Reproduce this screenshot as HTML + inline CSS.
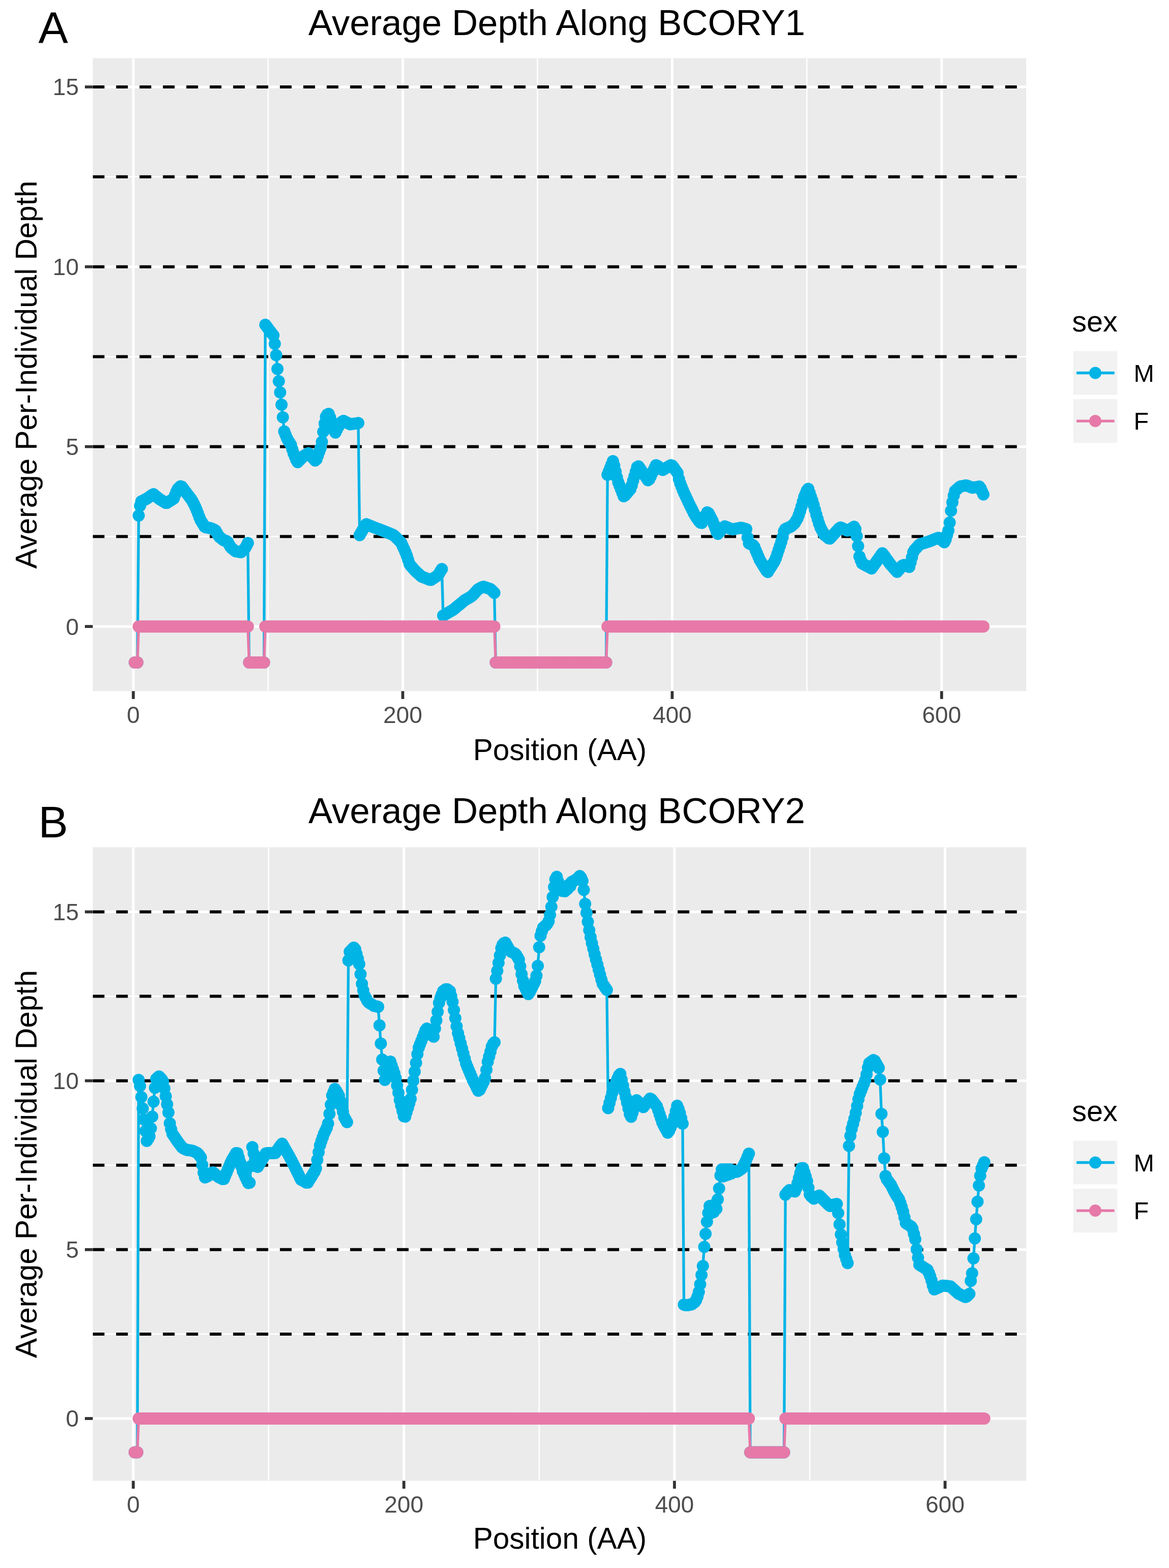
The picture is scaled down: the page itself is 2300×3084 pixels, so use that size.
<!DOCTYPE html>
<html><head><meta charset="utf-8"><title>Average Depth Along BCORY1 / BCORY2</title>
<style>html,body{margin:0;padding:0;background:#fff;}svg{display:block;}text{font-family:'Liberation Sans', Arial, Helvetica, sans-serif;}.tk{font-size:46px;fill:#4D4D4D;}.ti{font-size:70.8px;fill:#000;}.ax{font-size:58.5px;fill:#000;}.lt{font-size:57.5px;fill:#000;}.lg{font-size:48.5px;fill:#000;}.tag{font-size:87.5px;fill:#000;}</style></head><body>
<svg xmlns="http://www.w3.org/2000/svg" width="2300" height="3084" viewBox="0 0 2300 3084">
<rect width="2300" height="3084" fill="#fff"/>
<defs><clipPath id="clipA"><rect x="182.5" y="114.4" width="1836.5" height="1244.9"/></clipPath><clipPath id="clipB"><rect x="182.5" y="1666.5" width="1836.7" height="1246"/></clipPath></defs>
<text x="75.4" y="85.0" class="tag">A</text>
<text x="606.8" y="68.6" class="ti">Average Depth Along BCORY1</text>
<rect x="182.5" y="114.4" width="1836.5" height="1244.9" fill="#EBEBEB"/>
<g clip-path="url(#clipA)">
<line x1="182.5" x2="2019" y1="1055.3" y2="1055.3" stroke="#fff" stroke-width="2.6"/>
<line x1="182.5" x2="2019" y1="701.6" y2="701.6" stroke="#fff" stroke-width="2.6"/>
<line x1="182.5" x2="2019" y1="347.8" y2="347.8" stroke="#fff" stroke-width="2.6"/>
<line x1="527.4" x2="527.4" y1="114.4" y2="1359.3" stroke="#fff" stroke-width="2.6"/>
<line x1="1057.5" x2="1057.5" y1="114.4" y2="1359.3" stroke="#fff" stroke-width="2.6"/>
<line x1="1587.5" x2="1587.5" y1="114.4" y2="1359.3" stroke="#fff" stroke-width="2.6"/>
<line x1="182.5" x2="2019" y1="1232.2" y2="1232.2" stroke="#fff" stroke-width="5.0"/>
<line x1="182.5" x2="2019" y1="878.5" y2="878.5" stroke="#fff" stroke-width="5.0"/>
<line x1="182.5" x2="2019" y1="524.7" y2="524.7" stroke="#fff" stroke-width="5.0"/>
<line x1="182.5" x2="2019" y1="171" y2="171" stroke="#fff" stroke-width="5.0"/>
<line x1="262.3" x2="262.3" y1="114.4" y2="1359.3" stroke="#fff" stroke-width="5.0"/>
<line x1="792.4" x2="792.4" y1="114.4" y2="1359.3" stroke="#fff" stroke-width="5.0"/>
<line x1="1322.5" x2="1322.5" y1="114.4" y2="1359.3" stroke="#fff" stroke-width="5.0"/>
<line x1="1852.6" x2="1852.6" y1="114.4" y2="1359.3" stroke="#fff" stroke-width="5.0"/>
<line x1="182.5" x2="2019" y1="1055.3" y2="1055.3" stroke="#000" stroke-width="6.0" stroke-dasharray="23 23.03"/>
<line x1="182.5" x2="2019" y1="878.5" y2="878.5" stroke="#000" stroke-width="6.0" stroke-dasharray="23 23.03"/>
<line x1="182.5" x2="2019" y1="701.6" y2="701.6" stroke="#000" stroke-width="6.0" stroke-dasharray="23 23.03"/>
<line x1="182.5" x2="2019" y1="524.7" y2="524.7" stroke="#000" stroke-width="6.0" stroke-dasharray="23 23.03"/>
<line x1="182.5" x2="2019" y1="347.8" y2="347.8" stroke="#000" stroke-width="6.0" stroke-dasharray="23 23.03"/>
<line x1="182.5" x2="2019" y1="171" y2="171" stroke="#000" stroke-width="6.0" stroke-dasharray="23 23.03"/>
<polyline points="265,1303 267.6,1303 270.3,1303 272.9,1014 275.6,994.8 278.2,985.9 280.9,984.7 283.5,983.4 286.2,982.1 288.8,980.8 291.5,979 294.1,977.1 296.8,975.2 299.4,973.3 302.1,972 304.7,974.2 307.4,976.4 310,978.6 312.7,980.7 315.3,982.4 318,984 320.6,985.7 323.3,987.3 325.9,989 328.6,988.9 331.2,987.3 333.9,985.6 336.5,984 339.2,982.3 341.8,980.4 344.5,973.8 347.1,967.3 349.8,961.8 352.4,959.1 355.1,956.4 357.7,957.3 360.4,960.8 363,964.4 365.7,967.9 368.3,971.4 371,975 373.6,978.5 376.3,982.1 378.9,986.2 381.6,991.5 384.2,996.8 386.9,1003 389.5,1010 392.2,1016.9 394.8,1023.3 397.5,1027.6 400.1,1031.8 402.8,1036 405.4,1037.3 408.1,1037.8 410.7,1038.2 413.4,1038.6 416,1039.5 418.7,1040.6 421.3,1041.7 424,1043.5 426.6,1048.1 429.3,1052.7 431.9,1056.2 434.6,1058.3 437.2,1060.5 439.9,1062.5 442.5,1063.2 445.2,1063.9 447.8,1065.8 450.5,1070.4 453.1,1075 455.8,1078.2 458.4,1080.3 461.1,1082.4 463.7,1084.3 466.4,1084.7 469,1085.2 471.7,1085.7 474.3,1086 477,1083.3 479.6,1080.7 482.3,1078 484.9,1073.6 487.6,1068 490.2,1303 492.9,1303 495.5,1303 498.2,1303 500.8,1303 503.5,1303 506.1,1303 508.8,1303 511.4,1303 514.1,1303 516.7,1303 519.4,1303 522,638.7 524.7,642.3 527.4,645.9 530,649.5 532.7,652.9 535.3,656.3 538,659.7 540.6,676.3 543.3,698.5 545.9,725.7 548.6,749.8 551.2,771.8 553.9,795.9 556.5,820.7 559.2,848.6 561.8,855.1 564.5,861.7 567.1,866.5 569.8,870.8 572.4,875.1 575.1,883.8 577.7,891.7 580.4,898.1 583,904.5 585.7,908.9 588.3,906.3 591,903.6 593.6,901 596.3,898.3 598.9,895.9 601.6,894.4 604.2,892.9 606.9,891.4 609.5,894.2 612.2,897.1 614.8,900 617.5,902.8 620.1,905.7 622.8,903.3 625.4,896 628.1,888.6 630.7,881.3 633.4,869 636,849.3 638.7,833.1 641.3,819.7 644,815.3 646.6,814 649.3,820.7 651.9,828.3 654.6,836.3 657.2,846 659.9,850.8 662.5,845.5 665.2,840.2 667.8,836 670.5,832.6 673.1,829.2 675.8,827.7 678.4,829.1 681.1,830.4 683.7,831.7 686.4,833.1 689,834.4 691.7,834.1 694.3,833.7 697,833.3 699.6,832.9 702.3,832.5 704.9,832.1 707.6,1052.6 710.2,1048.1 712.9,1043.5 715.5,1039 718.2,1034.4 720.8,1031 723.5,1032.1 726.1,1033.2 728.8,1034.2 731.4,1035.3 734.1,1036.4 736.7,1037.4 739.4,1038.5 742,1039.5 744.7,1040.5 747.3,1041.5 750,1042.5 752.6,1043.5 755.3,1044.5 757.9,1045.5 760.6,1046.6 763.2,1047.7 765.9,1048.8 768.5,1050 771.2,1051.1 773.8,1052.2 776.5,1054.4 779.1,1057 781.8,1059.7 784.4,1062.3 787.1,1065 789.7,1068.2 792.4,1074.2 795.1,1080.1 797.7,1086.1 800.4,1093.1 803,1101.1 805.7,1109 808.3,1113.1 811,1116 813.6,1119 816.3,1122 818.9,1124.5 821.6,1126.9 824.2,1129.3 826.9,1131.7 829.5,1133.9 832.2,1135 834.8,1136 837.5,1137.1 840.1,1138.1 842.8,1139.2 845.4,1140.2 848.1,1140.6 850.7,1138.8 853.4,1137 856,1135.2 858.7,1133.5 861.3,1131.7 864,1127.9 866.6,1123.6 869.3,1119.3 871.9,1210.8 874.6,1209.2 877.2,1207.7 879.9,1206.1 882.5,1204.5 885.2,1203 887.8,1201.4 890.5,1199.9 893.1,1198.2 895.8,1196 898.4,1193.8 901.1,1191.6 903.7,1189.4 906.4,1187.2 909,1185 911.7,1182.8 914.3,1180.6 917,1179 919.6,1177.5 922.3,1175.9 924.9,1174.4 927.6,1172.8 930.2,1170.6 932.9,1167.7 935.5,1164.8 938.2,1161.8 940.8,1158.9 943.5,1157.4 946.1,1156.1 948.8,1154.8 951.4,1154 954.1,1154.9 956.7,1155.8 959.4,1156.7 962,1157.6 964.7,1158.5 967.3,1160.7 970,1163.4 972.6,1166 975.3,1303 977.9,1303 980.6,1303 983.2,1303 985.9,1303 988.5,1303 991.2,1303 993.8,1303 996.5,1303 999.1,1303 1001.8,1303 1004.4,1303 1007.1,1303 1009.7,1303 1012.4,1303 1015,1303 1017.7,1303 1020.3,1303 1023,1303 1025.6,1303 1028.3,1303 1030.9,1303 1033.6,1303 1036.2,1303 1038.9,1303 1041.5,1303 1044.2,1303 1046.8,1303 1049.5,1303 1052.1,1303 1054.8,1303 1057.5,1303 1060.1,1303 1062.8,1303 1065.4,1303 1068.1,1303 1070.7,1303 1073.4,1303 1076,1303 1078.7,1303 1081.3,1303 1084,1303 1086.6,1303 1089.3,1303 1091.9,1303 1094.6,1303 1097.2,1303 1099.9,1303 1102.5,1303 1105.2,1303 1107.8,1303 1110.5,1303 1113.1,1303 1115.8,1303 1118.4,1303 1121.1,1303 1123.7,1303 1126.4,1303 1129,1303 1131.7,1303 1134.3,1303 1137,1303 1139.6,1303 1142.3,1303 1144.9,1303 1147.6,1303 1150.2,1303 1152.9,1303 1155.5,1303 1158.2,1303 1160.8,1303 1163.5,1303 1166.1,1303 1168.8,1303 1171.4,1303 1174.1,1303 1176.7,1303 1179.4,1303 1182,1303 1184.7,1303 1187.3,1303 1190,1303 1192.6,1303 1195.3,933.8 1197.9,927.2 1200.6,920.5 1203.2,913.8 1205.9,907.1 1208.5,915.8 1211.2,927.4 1213.8,939.1 1216.5,948.8 1219.1,955.6 1221.8,962.3 1224.4,969.1 1227.1,975.9 1229.7,974.4 1232.4,971.3 1235,968.2 1237.7,965.1 1240.3,962 1243,954.7 1245.6,945.7 1248.3,936.7 1250.9,927.8 1253.6,918.8 1256.2,917.2 1258.9,921.1 1261.5,925 1264.2,928.9 1266.8,932.8 1269.5,936.6 1272.1,940.5 1274.8,944.4 1277.4,942.8 1280.1,937.2 1282.7,931.6 1285.4,926 1288,920.4 1290.7,914.9 1293.3,916 1296,918.3 1298.6,920.7 1301.3,923 1303.9,924.3 1306.6,922.7 1309.2,921.1 1311.9,919.6 1314.5,918 1317.2,916.4 1319.8,914.9 1322.5,915.7 1325.2,919.3 1327.8,923 1330.5,926.7 1333.1,930.4 1335.8,942.3 1338.4,950.8 1341.1,957.4 1343.7,964.1 1346.4,970.4 1349,976.1 1351.7,981.8 1354.3,987.5 1357,993 1359.6,998.3 1362.3,1003.6 1364.9,1008.9 1367.6,1013.8 1370.2,1017.8 1372.9,1021.8 1375.5,1025.3 1378.2,1028.1 1380.8,1028.4 1383.5,1023.2 1386.1,1018.1 1388.8,1012.9 1391.4,1007.7 1394.1,1009.4 1396.7,1014.4 1399.4,1019.5 1402,1024.6 1404.7,1031.3 1407.3,1038.6 1410,1045.9 1412.6,1050 1415.3,1046.9 1417.9,1043.8 1420.6,1040.7 1423.2,1037.6 1425.9,1035.2 1428.5,1036.3 1431.2,1037.3 1433.8,1038.4 1436.5,1039.5 1439.1,1040.5 1441.8,1040.9 1444.4,1040.4 1447.1,1040 1449.7,1039.5 1452.4,1039.1 1455,1038.6 1457.7,1038.2 1460.3,1038.5 1463,1039.3 1465.6,1040 1468.3,1040.8 1470.9,1057.3 1473.6,1068.7 1476.2,1069.9 1478.9,1071 1481.5,1072.2 1484.2,1075.8 1486.8,1082.2 1489.5,1088.5 1492.1,1094.8 1494.8,1101.1 1497.4,1105.5 1500.1,1109.7 1502.7,1114 1505.4,1118.2 1508,1122.5 1510.7,1124.9 1513.3,1120.6 1516,1116.4 1518.6,1112.2 1521.3,1108 1523.9,1103.8 1526.6,1097.7 1529.2,1089.8 1531.9,1081.8 1534.5,1073.8 1537.2,1065.8 1539.8,1056.6 1542.5,1045.1 1545.1,1040.4 1547.8,1039.2 1550.4,1038.1 1553.1,1037 1555.7,1035.8 1558.4,1033.7 1561,1031.6 1563.7,1028.8 1566.3,1024.3 1569,1019.7 1571.6,1013.1 1574.3,1005.1 1576.9,996.5 1579.6,986.8 1582.2,977.4 1584.9,971.2 1587.5,965 1590.2,961.5 1592.9,969.2 1595.5,976.9 1598.2,984.6 1600.8,992.9 1603.5,1002.7 1606.1,1012.3 1608.8,1021 1611.4,1029.8 1614.1,1037 1616.7,1042 1619.4,1047 1622,1052 1624.7,1054.1 1627.3,1056.2 1630,1058.4 1632.6,1059.3 1635.3,1056.4 1637.9,1053.5 1640.6,1050.6 1643.2,1047.7 1645.9,1044.8 1648.5,1041.9 1651.2,1039 1653.8,1037.4 1656.5,1038.6 1659.1,1039.8 1661.8,1041.1 1664.4,1042.3 1667.1,1043.5 1669.7,1042.9 1672.4,1041.2 1675,1039.4 1677.7,1037.7 1680.3,1035.9 1683,1040.8 1685.6,1054.5 1688.3,1074.1 1690.9,1094.4 1693.6,1101.7 1696.2,1108.1 1698.9,1109.5 1701.5,1110.9 1704.2,1112.3 1706.8,1113.7 1709.5,1115.1 1712.1,1116.5 1714.8,1117.9 1717.4,1114.6 1720.1,1110.8 1722.7,1107.1 1725.4,1103.3 1728,1099.6 1730.7,1095.8 1733.3,1092.1 1736,1088.3 1738.6,1091.4 1741.3,1095.1 1743.9,1098.9 1746.6,1102.6 1749.2,1106.3 1751.9,1109.9 1754.5,1112.9 1757.2,1116 1759.8,1119 1762.5,1122.1 1765.1,1124.8 1767.8,1121.7 1770.4,1118.6 1773.1,1115.4 1775.7,1112.3 1778.4,1111.2 1781,1112.2 1783.7,1113.1 1786.3,1114.1 1789,1115.1 1791.6,1106 1794.3,1096.1 1796.9,1086.1 1799.6,1081.6 1802.2,1078.7 1804.9,1075.7 1807.5,1072.7 1810.2,1070.3 1812.8,1069.5 1815.5,1068.7 1818.1,1067.9 1820.8,1067 1823.4,1066.2 1826.1,1065.4 1828.7,1064.5 1831.4,1063.4 1834,1062.4 1836.7,1061.3 1839.3,1060.3 1842,1059.2 1844.6,1058.2 1847.3,1058 1849.9,1060.1 1852.6,1062.2 1855.3,1064.3 1857.9,1066.5 1860.6,1061 1863.2,1052.3 1865.9,1043.6 1868.5,1027.7 1871.2,1004.4 1873.8,987.9 1876.5,974.8 1879.1,965.7 1881.8,963.3 1884.4,961 1887.1,958.6 1889.7,956.8 1892.4,956.2 1895,955.7 1897.7,955.2 1900.3,954.7 1903,955.2 1905.6,956.3 1908.3,957.3 1910.9,958.4 1913.6,959.2 1916.2,958.8 1918.9,958.4 1921.5,957.9 1924.2,957.5 1926.8,957 1929.5,960.8 1932.1,966.7 1934.8,972.5" fill="none" stroke="#00B4E6" stroke-width="5.3" stroke-linejoin="round" stroke-linecap="butt"/>
<polyline points="265,1303 267.6,1303 270.3,1303 272.9,1232.2 275.6,1232.2 278.2,1232.2 280.9,1232.2 283.5,1232.2 286.2,1232.2 288.8,1232.2 291.5,1232.2 294.1,1232.2 296.8,1232.2 299.4,1232.2 302.1,1232.2 304.7,1232.2 307.4,1232.2 310,1232.2 312.7,1232.2 315.3,1232.2 318,1232.2 320.6,1232.2 323.3,1232.2 325.9,1232.2 328.6,1232.2 331.2,1232.2 333.9,1232.2 336.5,1232.2 339.2,1232.2 341.8,1232.2 344.5,1232.2 347.1,1232.2 349.8,1232.2 352.4,1232.2 355.1,1232.2 357.7,1232.2 360.4,1232.2 363,1232.2 365.7,1232.2 368.3,1232.2 371,1232.2 373.6,1232.2 376.3,1232.2 378.9,1232.2 381.6,1232.2 384.2,1232.2 386.9,1232.2 389.5,1232.2 392.2,1232.2 394.8,1232.2 397.5,1232.2 400.1,1232.2 402.8,1232.2 405.4,1232.2 408.1,1232.2 410.7,1232.2 413.4,1232.2 416,1232.2 418.7,1232.2 421.3,1232.2 424,1232.2 426.6,1232.2 429.3,1232.2 431.9,1232.2 434.6,1232.2 437.2,1232.2 439.9,1232.2 442.5,1232.2 445.2,1232.2 447.8,1232.2 450.5,1232.2 453.1,1232.2 455.8,1232.2 458.4,1232.2 461.1,1232.2 463.7,1232.2 466.4,1232.2 469,1232.2 471.7,1232.2 474.3,1232.2 477,1232.2 479.6,1232.2 482.3,1232.2 484.9,1232.2 487.6,1232.2 490.2,1303 492.9,1303 495.5,1303 498.2,1303 500.8,1303 503.5,1303 506.1,1303 508.8,1303 511.4,1303 514.1,1303 516.7,1303 519.4,1303 522,1232.2 524.7,1232.2 527.4,1232.2 530,1232.2 532.7,1232.2 535.3,1232.2 538,1232.2 540.6,1232.2 543.3,1232.2 545.9,1232.2 548.6,1232.2 551.2,1232.2 553.9,1232.2 556.5,1232.2 559.2,1232.2 561.8,1232.2 564.5,1232.2 567.1,1232.2 569.8,1232.2 572.4,1232.2 575.1,1232.2 577.7,1232.2 580.4,1232.2 583,1232.2 585.7,1232.2 588.3,1232.2 591,1232.2 593.6,1232.2 596.3,1232.2 598.9,1232.2 601.6,1232.2 604.2,1232.2 606.9,1232.2 609.5,1232.2 612.2,1232.2 614.8,1232.2 617.5,1232.2 620.1,1232.2 622.8,1232.2 625.4,1232.2 628.1,1232.2 630.7,1232.2 633.4,1232.2 636,1232.2 638.7,1232.2 641.3,1232.2 644,1232.2 646.6,1232.2 649.3,1232.2 651.9,1232.2 654.6,1232.2 657.2,1232.2 659.9,1232.2 662.5,1232.2 665.2,1232.2 667.8,1232.2 670.5,1232.2 673.1,1232.2 675.8,1232.2 678.4,1232.2 681.1,1232.2 683.7,1232.2 686.4,1232.2 689,1232.2 691.7,1232.2 694.3,1232.2 697,1232.2 699.6,1232.2 702.3,1232.2 704.9,1232.2 707.6,1232.2 710.2,1232.2 712.9,1232.2 715.5,1232.2 718.2,1232.2 720.8,1232.2 723.5,1232.2 726.1,1232.2 728.8,1232.2 731.4,1232.2 734.1,1232.2 736.7,1232.2 739.4,1232.2 742,1232.2 744.7,1232.2 747.3,1232.2 750,1232.2 752.6,1232.2 755.3,1232.2 757.9,1232.2 760.6,1232.2 763.2,1232.2 765.9,1232.2 768.5,1232.2 771.2,1232.2 773.8,1232.2 776.5,1232.2 779.1,1232.2 781.8,1232.2 784.4,1232.2 787.1,1232.2 789.7,1232.2 792.4,1232.2 795.1,1232.2 797.7,1232.2 800.4,1232.2 803,1232.2 805.7,1232.2 808.3,1232.2 811,1232.2 813.6,1232.2 816.3,1232.2 818.9,1232.2 821.6,1232.2 824.2,1232.2 826.9,1232.2 829.5,1232.2 832.2,1232.2 834.8,1232.2 837.5,1232.2 840.1,1232.2 842.8,1232.2 845.4,1232.2 848.1,1232.2 850.7,1232.2 853.4,1232.2 856,1232.2 858.7,1232.2 861.3,1232.2 864,1232.2 866.6,1232.2 869.3,1232.2 871.9,1232.2 874.6,1232.2 877.2,1232.2 879.9,1232.2 882.5,1232.2 885.2,1232.2 887.8,1232.2 890.5,1232.2 893.1,1232.2 895.8,1232.2 898.4,1232.2 901.1,1232.2 903.7,1232.2 906.4,1232.2 909,1232.2 911.7,1232.2 914.3,1232.2 917,1232.2 919.6,1232.2 922.3,1232.2 924.9,1232.2 927.6,1232.2 930.2,1232.2 932.9,1232.2 935.5,1232.2 938.2,1232.2 940.8,1232.2 943.5,1232.2 946.1,1232.2 948.8,1232.2 951.4,1232.2 954.1,1232.2 956.7,1232.2 959.4,1232.2 962,1232.2 964.7,1232.2 967.3,1232.2 970,1232.2 972.6,1232.2 975.3,1303 977.9,1303 980.6,1303 983.2,1303 985.9,1303 988.5,1303 991.2,1303 993.8,1303 996.5,1303 999.1,1303 1001.8,1303 1004.4,1303 1007.1,1303 1009.7,1303 1012.4,1303 1015,1303 1017.7,1303 1020.3,1303 1023,1303 1025.6,1303 1028.3,1303 1030.9,1303 1033.6,1303 1036.2,1303 1038.9,1303 1041.5,1303 1044.2,1303 1046.8,1303 1049.5,1303 1052.1,1303 1054.8,1303 1057.5,1303 1060.1,1303 1062.8,1303 1065.4,1303 1068.1,1303 1070.7,1303 1073.4,1303 1076,1303 1078.7,1303 1081.3,1303 1084,1303 1086.6,1303 1089.3,1303 1091.9,1303 1094.6,1303 1097.2,1303 1099.9,1303 1102.5,1303 1105.2,1303 1107.8,1303 1110.5,1303 1113.1,1303 1115.8,1303 1118.4,1303 1121.1,1303 1123.7,1303 1126.4,1303 1129,1303 1131.7,1303 1134.3,1303 1137,1303 1139.6,1303 1142.3,1303 1144.9,1303 1147.6,1303 1150.2,1303 1152.9,1303 1155.5,1303 1158.2,1303 1160.8,1303 1163.5,1303 1166.1,1303 1168.8,1303 1171.4,1303 1174.1,1303 1176.7,1303 1179.4,1303 1182,1303 1184.7,1303 1187.3,1303 1190,1303 1192.6,1303 1195.3,1232.2 1197.9,1232.2 1200.6,1232.2 1203.2,1232.2 1205.9,1232.2 1208.5,1232.2 1211.2,1232.2 1213.8,1232.2 1216.5,1232.2 1219.1,1232.2 1221.8,1232.2 1224.4,1232.2 1227.1,1232.2 1229.7,1232.2 1232.4,1232.2 1235,1232.2 1237.7,1232.2 1240.3,1232.2 1243,1232.2 1245.6,1232.2 1248.3,1232.2 1250.9,1232.2 1253.6,1232.2 1256.2,1232.2 1258.9,1232.2 1261.5,1232.2 1264.2,1232.2 1266.8,1232.2 1269.5,1232.2 1272.1,1232.2 1274.8,1232.2 1277.4,1232.2 1280.1,1232.2 1282.7,1232.2 1285.4,1232.2 1288,1232.2 1290.7,1232.2 1293.3,1232.2 1296,1232.2 1298.6,1232.2 1301.3,1232.2 1303.9,1232.2 1306.6,1232.2 1309.2,1232.2 1311.9,1232.2 1314.5,1232.2 1317.2,1232.2 1319.8,1232.2 1322.5,1232.2 1325.2,1232.2 1327.8,1232.2 1330.5,1232.2 1333.1,1232.2 1335.8,1232.2 1338.4,1232.2 1341.1,1232.2 1343.7,1232.2 1346.4,1232.2 1349,1232.2 1351.7,1232.2 1354.3,1232.2 1357,1232.2 1359.6,1232.2 1362.3,1232.2 1364.9,1232.2 1367.6,1232.2 1370.2,1232.2 1372.9,1232.2 1375.5,1232.2 1378.2,1232.2 1380.8,1232.2 1383.5,1232.2 1386.1,1232.2 1388.8,1232.2 1391.4,1232.2 1394.1,1232.2 1396.7,1232.2 1399.4,1232.2 1402,1232.2 1404.7,1232.2 1407.3,1232.2 1410,1232.2 1412.6,1232.2 1415.3,1232.2 1417.9,1232.2 1420.6,1232.2 1423.2,1232.2 1425.9,1232.2 1428.5,1232.2 1431.2,1232.2 1433.8,1232.2 1436.5,1232.2 1439.1,1232.2 1441.8,1232.2 1444.4,1232.2 1447.1,1232.2 1449.7,1232.2 1452.4,1232.2 1455,1232.2 1457.7,1232.2 1460.3,1232.2 1463,1232.2 1465.6,1232.2 1468.3,1232.2 1470.9,1232.2 1473.6,1232.2 1476.2,1232.2 1478.9,1232.2 1481.5,1232.2 1484.2,1232.2 1486.8,1232.2 1489.5,1232.2 1492.1,1232.2 1494.8,1232.2 1497.4,1232.2 1500.1,1232.2 1502.7,1232.2 1505.4,1232.2 1508,1232.2 1510.7,1232.2 1513.3,1232.2 1516,1232.2 1518.6,1232.2 1521.3,1232.2 1523.9,1232.2 1526.6,1232.2 1529.2,1232.2 1531.9,1232.2 1534.5,1232.2 1537.2,1232.2 1539.8,1232.2 1542.5,1232.2 1545.1,1232.2 1547.8,1232.2 1550.4,1232.2 1553.1,1232.2 1555.7,1232.2 1558.4,1232.2 1561,1232.2 1563.7,1232.2 1566.3,1232.2 1569,1232.2 1571.6,1232.2 1574.3,1232.2 1576.9,1232.2 1579.6,1232.2 1582.2,1232.2 1584.9,1232.2 1587.5,1232.2 1590.2,1232.2 1592.9,1232.2 1595.5,1232.2 1598.2,1232.2 1600.8,1232.2 1603.5,1232.2 1606.1,1232.2 1608.8,1232.2 1611.4,1232.2 1614.1,1232.2 1616.7,1232.2 1619.4,1232.2 1622,1232.2 1624.7,1232.2 1627.3,1232.2 1630,1232.2 1632.6,1232.2 1635.3,1232.2 1637.9,1232.2 1640.6,1232.2 1643.2,1232.2 1645.9,1232.2 1648.5,1232.2 1651.2,1232.2 1653.8,1232.2 1656.5,1232.2 1659.1,1232.2 1661.8,1232.2 1664.4,1232.2 1667.1,1232.2 1669.7,1232.2 1672.4,1232.2 1675,1232.2 1677.7,1232.2 1680.3,1232.2 1683,1232.2 1685.6,1232.2 1688.3,1232.2 1690.9,1232.2 1693.6,1232.2 1696.2,1232.2 1698.9,1232.2 1701.5,1232.2 1704.2,1232.2 1706.8,1232.2 1709.5,1232.2 1712.1,1232.2 1714.8,1232.2 1717.4,1232.2 1720.1,1232.2 1722.7,1232.2 1725.4,1232.2 1728,1232.2 1730.7,1232.2 1733.3,1232.2 1736,1232.2 1738.6,1232.2 1741.3,1232.2 1743.9,1232.2 1746.6,1232.2 1749.2,1232.2 1751.9,1232.2 1754.5,1232.2 1757.2,1232.2 1759.8,1232.2 1762.5,1232.2 1765.1,1232.2 1767.8,1232.2 1770.4,1232.2 1773.1,1232.2 1775.7,1232.2 1778.4,1232.2 1781,1232.2 1783.7,1232.2 1786.3,1232.2 1789,1232.2 1791.6,1232.2 1794.3,1232.2 1796.9,1232.2 1799.6,1232.2 1802.2,1232.2 1804.9,1232.2 1807.5,1232.2 1810.2,1232.2 1812.8,1232.2 1815.5,1232.2 1818.1,1232.2 1820.8,1232.2 1823.4,1232.2 1826.1,1232.2 1828.7,1232.2 1831.4,1232.2 1834,1232.2 1836.7,1232.2 1839.3,1232.2 1842,1232.2 1844.6,1232.2 1847.3,1232.2 1849.9,1232.2 1852.6,1232.2 1855.3,1232.2 1857.9,1232.2 1860.6,1232.2 1863.2,1232.2 1865.9,1232.2 1868.5,1232.2 1871.2,1232.2 1873.8,1232.2 1876.5,1232.2 1879.1,1232.2 1881.8,1232.2 1884.4,1232.2 1887.1,1232.2 1889.7,1232.2 1892.4,1232.2 1895,1232.2 1897.7,1232.2 1900.3,1232.2 1903,1232.2 1905.6,1232.2 1908.3,1232.2 1910.9,1232.2 1913.6,1232.2 1916.2,1232.2 1918.9,1232.2 1921.5,1232.2 1924.2,1232.2 1926.8,1232.2 1929.5,1232.2 1932.1,1232.2 1934.8,1232.2" fill="none" stroke="#E679A8" stroke-width="5.3" stroke-linejoin="round" stroke-linecap="butt"/>
<path d="M265 1303h0M267.6 1303h0M270.3 1303h0M272.9 1014h0M275.6 994.8h0M278.2 985.9h0M280.9 984.7h0M283.5 983.4h0M286.2 982.1h0M288.8 980.8h0M291.5 979h0M294.1 977.1h0M296.8 975.2h0M299.4 973.3h0M302.1 972h0M304.7 974.2h0M307.4 976.4h0M310 978.6h0M312.7 980.7h0M315.3 982.4h0M318 984h0M320.6 985.7h0M323.3 987.3h0M325.9 989h0M328.6 988.9h0M331.2 987.3h0M333.9 985.6h0M336.5 984h0M339.2 982.3h0M341.8 980.4h0M344.5 973.8h0M347.1 967.3h0M349.8 961.8h0M352.4 959.1h0M355.1 956.4h0M357.7 957.3h0M360.4 960.8h0M363 964.4h0M365.7 967.9h0M368.3 971.4h0M371 975h0M373.6 978.5h0M376.3 982.1h0M378.9 986.2h0M381.6 991.5h0M384.2 996.8h0M386.9 1003h0M389.5 1010h0M392.2 1016.9h0M394.8 1023.3h0M397.5 1027.6h0M400.1 1031.8h0M402.8 1036h0M405.4 1037.3h0M408.1 1037.8h0M410.7 1038.2h0M413.4 1038.6h0M416 1039.5h0M418.7 1040.6h0M421.3 1041.7h0M424 1043.5h0M426.6 1048.1h0M429.3 1052.7h0M431.9 1056.2h0M434.6 1058.3h0M437.2 1060.5h0M439.9 1062.5h0M442.5 1063.2h0M445.2 1063.9h0M447.8 1065.8h0M450.5 1070.4h0M453.1 1075h0M455.8 1078.2h0M458.4 1080.3h0M461.1 1082.4h0M463.7 1084.3h0M466.4 1084.7h0M469 1085.2h0M471.7 1085.7h0M474.3 1086h0M477 1083.3h0M479.6 1080.7h0M482.3 1078h0M484.9 1073.6h0M487.6 1068h0M490.2 1303h0M492.9 1303h0M495.5 1303h0M498.2 1303h0M500.8 1303h0M503.5 1303h0M506.1 1303h0M508.8 1303h0M511.4 1303h0M514.1 1303h0M516.7 1303h0M519.4 1303h0M522 638.7h0M524.7 642.3h0M527.4 645.9h0M530 649.5h0M532.7 652.9h0M535.3 656.3h0M538 659.7h0M540.6 676.3h0M543.3 698.5h0M545.9 725.7h0M548.6 749.8h0M551.2 771.8h0M553.9 795.9h0M556.5 820.7h0M559.2 848.6h0M561.8 855.1h0M564.5 861.7h0M567.1 866.5h0M569.8 870.8h0M572.4 875.1h0M575.1 883.8h0M577.7 891.7h0M580.4 898.1h0M583 904.5h0M585.7 908.9h0M588.3 906.3h0M591 903.6h0M593.6 901h0M596.3 898.3h0M598.9 895.9h0M601.6 894.4h0M604.2 892.9h0M606.9 891.4h0M609.5 894.2h0M612.2 897.1h0M614.8 900h0M617.5 902.8h0M620.1 905.7h0M622.8 903.3h0M625.4 896h0M628.1 888.6h0M630.7 881.3h0M633.4 869h0M636 849.3h0M638.7 833.1h0M641.3 819.7h0M644 815.3h0M646.6 814h0M649.3 820.7h0M651.9 828.3h0M654.6 836.3h0M657.2 846h0M659.9 850.8h0M662.5 845.5h0M665.2 840.2h0M667.8 836h0M670.5 832.6h0M673.1 829.2h0M675.8 827.7h0M678.4 829.1h0M681.1 830.4h0M683.7 831.7h0M686.4 833.1h0M689 834.4h0M691.7 834.1h0M694.3 833.7h0M697 833.3h0M699.6 832.9h0M702.3 832.5h0M704.9 832.1h0M707.6 1052.6h0M710.2 1048.1h0M712.9 1043.5h0M715.5 1039h0M718.2 1034.4h0M720.8 1031h0M723.5 1032.1h0M726.1 1033.2h0M728.8 1034.2h0M731.4 1035.3h0M734.1 1036.4h0M736.7 1037.4h0M739.4 1038.5h0M742 1039.5h0M744.7 1040.5h0M747.3 1041.5h0M750 1042.5h0M752.6 1043.5h0M755.3 1044.5h0M757.9 1045.5h0M760.6 1046.6h0M763.2 1047.7h0M765.9 1048.8h0M768.5 1050h0M771.2 1051.1h0M773.8 1052.2h0M776.5 1054.4h0M779.1 1057h0M781.8 1059.7h0M784.4 1062.3h0M787.1 1065h0M789.7 1068.2h0M792.4 1074.2h0M795.1 1080.1h0M797.7 1086.1h0M800.4 1093.1h0M803 1101.1h0M805.7 1109h0M808.3 1113.1h0M811 1116h0M813.6 1119h0M816.3 1122h0M818.9 1124.5h0M821.6 1126.9h0M824.2 1129.3h0M826.9 1131.7h0M829.5 1133.9h0M832.2 1135h0M834.8 1136h0M837.5 1137.1h0M840.1 1138.1h0M842.8 1139.2h0M845.4 1140.2h0M848.1 1140.6h0M850.7 1138.8h0M853.4 1137h0M856 1135.2h0M858.7 1133.5h0M861.3 1131.7h0M864 1127.9h0M866.6 1123.6h0M869.3 1119.3h0M871.9 1210.8h0M874.6 1209.2h0M877.2 1207.7h0M879.9 1206.1h0M882.5 1204.5h0M885.2 1203h0M887.8 1201.4h0M890.5 1199.9h0M893.1 1198.2h0M895.8 1196h0M898.4 1193.8h0M901.1 1191.6h0M903.7 1189.4h0M906.4 1187.2h0M909 1185h0M911.7 1182.8h0M914.3 1180.6h0M917 1179h0M919.6 1177.5h0M922.3 1175.9h0M924.9 1174.4h0M927.6 1172.8h0M930.2 1170.6h0M932.9 1167.7h0M935.5 1164.8h0M938.2 1161.8h0M940.8 1158.9h0M943.5 1157.4h0M946.1 1156.1h0M948.8 1154.8h0M951.4 1154h0M954.1 1154.9h0M956.7 1155.8h0M959.4 1156.7h0M962 1157.6h0M964.7 1158.5h0M967.3 1160.7h0M970 1163.4h0M972.6 1166h0M975.3 1303h0M977.9 1303h0M980.6 1303h0M983.2 1303h0M985.9 1303h0M988.5 1303h0M991.2 1303h0M993.8 1303h0M996.5 1303h0M999.1 1303h0M1001.8 1303h0M1004.4 1303h0M1007.1 1303h0M1009.7 1303h0M1012.4 1303h0M1015 1303h0M1017.7 1303h0M1020.3 1303h0M1023 1303h0M1025.6 1303h0M1028.3 1303h0M1030.9 1303h0M1033.6 1303h0M1036.2 1303h0M1038.9 1303h0M1041.5 1303h0M1044.2 1303h0M1046.8 1303h0M1049.5 1303h0M1052.1 1303h0M1054.8 1303h0M1057.5 1303h0M1060.1 1303h0M1062.8 1303h0M1065.4 1303h0M1068.1 1303h0M1070.7 1303h0M1073.4 1303h0M1076 1303h0M1078.7 1303h0M1081.3 1303h0M1084 1303h0M1086.6 1303h0M1089.3 1303h0M1091.9 1303h0M1094.6 1303h0M1097.2 1303h0M1099.9 1303h0M1102.5 1303h0M1105.2 1303h0M1107.8 1303h0M1110.5 1303h0M1113.1 1303h0M1115.8 1303h0M1118.4 1303h0M1121.1 1303h0M1123.7 1303h0M1126.4 1303h0M1129 1303h0M1131.7 1303h0M1134.3 1303h0M1137 1303h0M1139.6 1303h0M1142.3 1303h0M1144.9 1303h0M1147.6 1303h0M1150.2 1303h0M1152.9 1303h0M1155.5 1303h0M1158.2 1303h0M1160.8 1303h0M1163.5 1303h0M1166.1 1303h0M1168.8 1303h0M1171.4 1303h0M1174.1 1303h0M1176.7 1303h0M1179.4 1303h0M1182 1303h0M1184.7 1303h0M1187.3 1303h0M1190 1303h0M1192.6 1303h0M1195.3 933.8h0M1197.9 927.2h0M1200.6 920.5h0M1203.2 913.8h0M1205.9 907.1h0M1208.5 915.8h0M1211.2 927.4h0M1213.8 939.1h0M1216.5 948.8h0M1219.1 955.6h0M1221.8 962.3h0M1224.4 969.1h0M1227.1 975.9h0M1229.7 974.4h0M1232.4 971.3h0M1235 968.2h0M1237.7 965.1h0M1240.3 962h0M1243 954.7h0M1245.6 945.7h0M1248.3 936.7h0M1250.9 927.8h0M1253.6 918.8h0M1256.2 917.2h0M1258.9 921.1h0M1261.5 925h0M1264.2 928.9h0M1266.8 932.8h0M1269.5 936.6h0M1272.1 940.5h0M1274.8 944.4h0M1277.4 942.8h0M1280.1 937.2h0M1282.7 931.6h0M1285.4 926h0M1288 920.4h0M1290.7 914.9h0M1293.3 916h0M1296 918.3h0M1298.6 920.7h0M1301.3 923h0M1303.9 924.3h0M1306.6 922.7h0M1309.2 921.1h0M1311.9 919.6h0M1314.5 918h0M1317.2 916.4h0M1319.8 914.9h0M1322.5 915.7h0M1325.2 919.3h0M1327.8 923h0M1330.5 926.7h0M1333.1 930.4h0M1335.8 942.3h0M1338.4 950.8h0M1341.1 957.4h0M1343.7 964.1h0M1346.4 970.4h0M1349 976.1h0M1351.7 981.8h0M1354.3 987.5h0M1357 993h0M1359.6 998.3h0M1362.3 1003.6h0M1364.9 1008.9h0M1367.6 1013.8h0M1370.2 1017.8h0M1372.9 1021.8h0M1375.5 1025.3h0M1378.2 1028.1h0M1380.8 1028.4h0M1383.5 1023.2h0M1386.1 1018.1h0M1388.8 1012.9h0M1391.4 1007.7h0M1394.1 1009.4h0M1396.7 1014.4h0M1399.4 1019.5h0M1402 1024.6h0M1404.7 1031.3h0M1407.3 1038.6h0M1410 1045.9h0M1412.6 1050h0M1415.3 1046.9h0M1417.9 1043.8h0M1420.6 1040.7h0M1423.2 1037.6h0M1425.9 1035.2h0M1428.5 1036.3h0M1431.2 1037.3h0M1433.8 1038.4h0M1436.5 1039.5h0M1439.1 1040.5h0M1441.8 1040.9h0M1444.4 1040.4h0M1447.1 1040h0M1449.7 1039.5h0M1452.4 1039.1h0M1455 1038.6h0M1457.7 1038.2h0M1460.3 1038.5h0M1463 1039.3h0M1465.6 1040h0M1468.3 1040.8h0M1470.9 1057.3h0M1473.6 1068.7h0M1476.2 1069.9h0M1478.9 1071h0M1481.5 1072.2h0M1484.2 1075.8h0M1486.8 1082.2h0M1489.5 1088.5h0M1492.1 1094.8h0M1494.8 1101.1h0M1497.4 1105.5h0M1500.1 1109.7h0M1502.7 1114h0M1505.4 1118.2h0M1508 1122.5h0M1510.7 1124.9h0M1513.3 1120.6h0M1516 1116.4h0M1518.6 1112.2h0M1521.3 1108h0M1523.9 1103.8h0M1526.6 1097.7h0M1529.2 1089.8h0M1531.9 1081.8h0M1534.5 1073.8h0M1537.2 1065.8h0M1539.8 1056.6h0M1542.5 1045.1h0M1545.1 1040.4h0M1547.8 1039.2h0M1550.4 1038.1h0M1553.1 1037h0M1555.7 1035.8h0M1558.4 1033.7h0M1561 1031.6h0M1563.7 1028.8h0M1566.3 1024.3h0M1569 1019.7h0M1571.6 1013.1h0M1574.3 1005.1h0M1576.9 996.5h0M1579.6 986.8h0M1582.2 977.4h0M1584.9 971.2h0M1587.5 965h0M1590.2 961.5h0M1592.9 969.2h0M1595.5 976.9h0M1598.2 984.6h0M1600.8 992.9h0M1603.5 1002.7h0M1606.1 1012.3h0M1608.8 1021h0M1611.4 1029.8h0M1614.1 1037h0M1616.7 1042h0M1619.4 1047h0M1622 1052h0M1624.7 1054.1h0M1627.3 1056.2h0M1630 1058.4h0M1632.6 1059.3h0M1635.3 1056.4h0M1637.9 1053.5h0M1640.6 1050.6h0M1643.2 1047.7h0M1645.9 1044.8h0M1648.5 1041.9h0M1651.2 1039h0M1653.8 1037.4h0M1656.5 1038.6h0M1659.1 1039.8h0M1661.8 1041.1h0M1664.4 1042.3h0M1667.1 1043.5h0M1669.7 1042.9h0M1672.4 1041.2h0M1675 1039.4h0M1677.7 1037.7h0M1680.3 1035.9h0M1683 1040.8h0M1685.6 1054.5h0M1688.3 1074.1h0M1690.9 1094.4h0M1693.6 1101.7h0M1696.2 1108.1h0M1698.9 1109.5h0M1701.5 1110.9h0M1704.2 1112.3h0M1706.8 1113.7h0M1709.5 1115.1h0M1712.1 1116.5h0M1714.8 1117.9h0M1717.4 1114.6h0M1720.1 1110.8h0M1722.7 1107.1h0M1725.4 1103.3h0M1728 1099.6h0M1730.7 1095.8h0M1733.3 1092.1h0M1736 1088.3h0M1738.6 1091.4h0M1741.3 1095.1h0M1743.9 1098.9h0M1746.6 1102.6h0M1749.2 1106.3h0M1751.9 1109.9h0M1754.5 1112.9h0M1757.2 1116h0M1759.8 1119h0M1762.5 1122.1h0M1765.1 1124.8h0M1767.8 1121.7h0M1770.4 1118.6h0M1773.1 1115.4h0M1775.7 1112.3h0M1778.4 1111.2h0M1781 1112.2h0M1783.7 1113.1h0M1786.3 1114.1h0M1789 1115.1h0M1791.6 1106h0M1794.3 1096.1h0M1796.9 1086.1h0M1799.6 1081.6h0M1802.2 1078.7h0M1804.9 1075.7h0M1807.5 1072.7h0M1810.2 1070.3h0M1812.8 1069.5h0M1815.5 1068.7h0M1818.1 1067.9h0M1820.8 1067h0M1823.4 1066.2h0M1826.1 1065.4h0M1828.7 1064.5h0M1831.4 1063.4h0M1834 1062.4h0M1836.7 1061.3h0M1839.3 1060.3h0M1842 1059.2h0M1844.6 1058.2h0M1847.3 1058h0M1849.9 1060.1h0M1852.6 1062.2h0M1855.3 1064.3h0M1857.9 1066.5h0M1860.6 1061h0M1863.2 1052.3h0M1865.9 1043.6h0M1868.5 1027.7h0M1871.2 1004.4h0M1873.8 987.9h0M1876.5 974.8h0M1879.1 965.7h0M1881.8 963.3h0M1884.4 961h0M1887.1 958.6h0M1889.7 956.8h0M1892.4 956.2h0M1895 955.7h0M1897.7 955.2h0M1900.3 954.7h0M1903 955.2h0M1905.6 956.3h0M1908.3 957.3h0M1910.9 958.4h0M1913.6 959.2h0M1916.2 958.8h0M1918.9 958.4h0M1921.5 957.9h0M1924.2 957.5h0M1926.8 957h0M1929.5 960.8h0M1932.1 966.7h0M1934.8 972.5h0" fill="none" stroke="#00B4E6" stroke-width="24" stroke-linecap="round"/>
<path d="M265 1303h0M267.6 1303h0M270.3 1303h0M272.9 1232.2h0M275.6 1232.2h0M278.2 1232.2h0M280.9 1232.2h0M283.5 1232.2h0M286.2 1232.2h0M288.8 1232.2h0M291.5 1232.2h0M294.1 1232.2h0M296.8 1232.2h0M299.4 1232.2h0M302.1 1232.2h0M304.7 1232.2h0M307.4 1232.2h0M310 1232.2h0M312.7 1232.2h0M315.3 1232.2h0M318 1232.2h0M320.6 1232.2h0M323.3 1232.2h0M325.9 1232.2h0M328.6 1232.2h0M331.2 1232.2h0M333.9 1232.2h0M336.5 1232.2h0M339.2 1232.2h0M341.8 1232.2h0M344.5 1232.2h0M347.1 1232.2h0M349.8 1232.2h0M352.4 1232.2h0M355.1 1232.2h0M357.7 1232.2h0M360.4 1232.2h0M363 1232.2h0M365.7 1232.2h0M368.3 1232.2h0M371 1232.2h0M373.6 1232.2h0M376.3 1232.2h0M378.9 1232.2h0M381.6 1232.2h0M384.2 1232.2h0M386.9 1232.2h0M389.5 1232.2h0M392.2 1232.2h0M394.8 1232.2h0M397.5 1232.2h0M400.1 1232.2h0M402.8 1232.2h0M405.4 1232.2h0M408.1 1232.2h0M410.7 1232.2h0M413.4 1232.2h0M416 1232.2h0M418.7 1232.2h0M421.3 1232.2h0M424 1232.2h0M426.6 1232.2h0M429.3 1232.2h0M431.9 1232.2h0M434.6 1232.2h0M437.2 1232.2h0M439.9 1232.2h0M442.5 1232.2h0M445.2 1232.2h0M447.8 1232.2h0M450.5 1232.2h0M453.1 1232.2h0M455.8 1232.2h0M458.4 1232.2h0M461.1 1232.2h0M463.7 1232.2h0M466.4 1232.2h0M469 1232.2h0M471.7 1232.2h0M474.3 1232.2h0M477 1232.2h0M479.6 1232.2h0M482.3 1232.2h0M484.9 1232.2h0M487.6 1232.2h0M490.2 1303h0M492.9 1303h0M495.5 1303h0M498.2 1303h0M500.8 1303h0M503.5 1303h0M506.1 1303h0M508.8 1303h0M511.4 1303h0M514.1 1303h0M516.7 1303h0M519.4 1303h0M522 1232.2h0M524.7 1232.2h0M527.4 1232.2h0M530 1232.2h0M532.7 1232.2h0M535.3 1232.2h0M538 1232.2h0M540.6 1232.2h0M543.3 1232.2h0M545.9 1232.2h0M548.6 1232.2h0M551.2 1232.2h0M553.9 1232.2h0M556.5 1232.2h0M559.2 1232.2h0M561.8 1232.2h0M564.5 1232.2h0M567.1 1232.2h0M569.8 1232.2h0M572.4 1232.2h0M575.1 1232.2h0M577.7 1232.2h0M580.4 1232.2h0M583 1232.2h0M585.7 1232.2h0M588.3 1232.2h0M591 1232.2h0M593.6 1232.2h0M596.3 1232.2h0M598.9 1232.2h0M601.6 1232.2h0M604.2 1232.2h0M606.9 1232.2h0M609.5 1232.2h0M612.2 1232.2h0M614.8 1232.2h0M617.5 1232.2h0M620.1 1232.2h0M622.8 1232.2h0M625.4 1232.2h0M628.1 1232.2h0M630.7 1232.2h0M633.4 1232.2h0M636 1232.2h0M638.7 1232.2h0M641.3 1232.2h0M644 1232.2h0M646.6 1232.2h0M649.3 1232.2h0M651.9 1232.2h0M654.6 1232.2h0M657.2 1232.2h0M659.9 1232.2h0M662.5 1232.2h0M665.2 1232.2h0M667.8 1232.2h0M670.5 1232.2h0M673.1 1232.2h0M675.8 1232.2h0M678.4 1232.2h0M681.1 1232.2h0M683.7 1232.2h0M686.4 1232.2h0M689 1232.2h0M691.7 1232.2h0M694.3 1232.2h0M697 1232.2h0M699.6 1232.2h0M702.3 1232.2h0M704.9 1232.2h0M707.6 1232.2h0M710.2 1232.2h0M712.9 1232.2h0M715.5 1232.2h0M718.2 1232.2h0M720.8 1232.2h0M723.5 1232.2h0M726.1 1232.2h0M728.8 1232.2h0M731.4 1232.2h0M734.1 1232.2h0M736.7 1232.2h0M739.4 1232.2h0M742 1232.2h0M744.7 1232.2h0M747.3 1232.2h0M750 1232.2h0M752.6 1232.2h0M755.3 1232.2h0M757.9 1232.2h0M760.6 1232.2h0M763.2 1232.2h0M765.9 1232.2h0M768.5 1232.2h0M771.2 1232.2h0M773.8 1232.2h0M776.5 1232.2h0M779.1 1232.2h0M781.8 1232.2h0M784.4 1232.2h0M787.1 1232.2h0M789.7 1232.2h0M792.4 1232.2h0M795.1 1232.2h0M797.7 1232.2h0M800.4 1232.2h0M803 1232.2h0M805.7 1232.2h0M808.3 1232.2h0M811 1232.2h0M813.6 1232.2h0M816.3 1232.2h0M818.9 1232.2h0M821.6 1232.2h0M824.2 1232.2h0M826.9 1232.2h0M829.5 1232.2h0M832.2 1232.2h0M834.8 1232.2h0M837.5 1232.2h0M840.1 1232.2h0M842.8 1232.2h0M845.4 1232.2h0M848.1 1232.2h0M850.7 1232.2h0M853.4 1232.2h0M856 1232.2h0M858.7 1232.2h0M861.3 1232.2h0M864 1232.2h0M866.6 1232.2h0M869.3 1232.2h0M871.9 1232.2h0M874.6 1232.2h0M877.2 1232.2h0M879.9 1232.2h0M882.5 1232.2h0M885.2 1232.2h0M887.8 1232.2h0M890.5 1232.2h0M893.1 1232.2h0M895.8 1232.2h0M898.4 1232.2h0M901.1 1232.2h0M903.7 1232.2h0M906.4 1232.2h0M909 1232.2h0M911.7 1232.2h0M914.3 1232.2h0M917 1232.2h0M919.6 1232.2h0M922.3 1232.2h0M924.9 1232.2h0M927.6 1232.2h0M930.2 1232.2h0M932.9 1232.2h0M935.5 1232.2h0M938.2 1232.2h0M940.8 1232.2h0M943.5 1232.2h0M946.1 1232.2h0M948.8 1232.2h0M951.4 1232.2h0M954.1 1232.2h0M956.7 1232.2h0M959.4 1232.2h0M962 1232.2h0M964.7 1232.2h0M967.3 1232.2h0M970 1232.2h0M972.6 1232.2h0M975.3 1303h0M977.9 1303h0M980.6 1303h0M983.2 1303h0M985.9 1303h0M988.5 1303h0M991.2 1303h0M993.8 1303h0M996.5 1303h0M999.1 1303h0M1001.8 1303h0M1004.4 1303h0M1007.1 1303h0M1009.7 1303h0M1012.4 1303h0M1015 1303h0M1017.7 1303h0M1020.3 1303h0M1023 1303h0M1025.6 1303h0M1028.3 1303h0M1030.9 1303h0M1033.6 1303h0M1036.2 1303h0M1038.9 1303h0M1041.5 1303h0M1044.2 1303h0M1046.8 1303h0M1049.5 1303h0M1052.1 1303h0M1054.8 1303h0M1057.5 1303h0M1060.1 1303h0M1062.8 1303h0M1065.4 1303h0M1068.1 1303h0M1070.7 1303h0M1073.4 1303h0M1076 1303h0M1078.7 1303h0M1081.3 1303h0M1084 1303h0M1086.6 1303h0M1089.3 1303h0M1091.9 1303h0M1094.6 1303h0M1097.2 1303h0M1099.9 1303h0M1102.5 1303h0M1105.2 1303h0M1107.8 1303h0M1110.5 1303h0M1113.1 1303h0M1115.8 1303h0M1118.4 1303h0M1121.1 1303h0M1123.7 1303h0M1126.4 1303h0M1129 1303h0M1131.7 1303h0M1134.3 1303h0M1137 1303h0M1139.6 1303h0M1142.3 1303h0M1144.9 1303h0M1147.6 1303h0M1150.2 1303h0M1152.9 1303h0M1155.5 1303h0M1158.2 1303h0M1160.8 1303h0M1163.5 1303h0M1166.1 1303h0M1168.8 1303h0M1171.4 1303h0M1174.1 1303h0M1176.7 1303h0M1179.4 1303h0M1182 1303h0M1184.7 1303h0M1187.3 1303h0M1190 1303h0M1192.6 1303h0M1195.3 1232.2h0M1197.9 1232.2h0M1200.6 1232.2h0M1203.2 1232.2h0M1205.9 1232.2h0M1208.5 1232.2h0M1211.2 1232.2h0M1213.8 1232.2h0M1216.5 1232.2h0M1219.1 1232.2h0M1221.8 1232.2h0M1224.4 1232.2h0M1227.1 1232.2h0M1229.7 1232.2h0M1232.4 1232.2h0M1235 1232.2h0M1237.7 1232.2h0M1240.3 1232.2h0M1243 1232.2h0M1245.6 1232.2h0M1248.3 1232.2h0M1250.9 1232.2h0M1253.6 1232.2h0M1256.2 1232.2h0M1258.9 1232.2h0M1261.5 1232.2h0M1264.2 1232.2h0M1266.8 1232.2h0M1269.5 1232.2h0M1272.1 1232.2h0M1274.8 1232.2h0M1277.4 1232.2h0M1280.1 1232.2h0M1282.7 1232.2h0M1285.4 1232.2h0M1288 1232.2h0M1290.7 1232.2h0M1293.3 1232.2h0M1296 1232.2h0M1298.6 1232.2h0M1301.3 1232.2h0M1303.9 1232.2h0M1306.6 1232.2h0M1309.2 1232.2h0M1311.9 1232.2h0M1314.5 1232.2h0M1317.2 1232.2h0M1319.8 1232.2h0M1322.5 1232.2h0M1325.2 1232.2h0M1327.8 1232.2h0M1330.5 1232.2h0M1333.1 1232.2h0M1335.8 1232.2h0M1338.4 1232.2h0M1341.1 1232.2h0M1343.7 1232.2h0M1346.4 1232.2h0M1349 1232.2h0M1351.7 1232.2h0M1354.3 1232.2h0M1357 1232.2h0M1359.6 1232.2h0M1362.3 1232.2h0M1364.9 1232.2h0M1367.6 1232.2h0M1370.2 1232.2h0M1372.9 1232.2h0M1375.5 1232.2h0M1378.2 1232.2h0M1380.8 1232.2h0M1383.5 1232.2h0M1386.1 1232.2h0M1388.8 1232.2h0M1391.4 1232.2h0M1394.1 1232.2h0M1396.7 1232.2h0M1399.4 1232.2h0M1402 1232.2h0M1404.7 1232.2h0M1407.3 1232.2h0M1410 1232.2h0M1412.6 1232.2h0M1415.3 1232.2h0M1417.9 1232.2h0M1420.6 1232.2h0M1423.2 1232.2h0M1425.9 1232.2h0M1428.5 1232.2h0M1431.2 1232.2h0M1433.8 1232.2h0M1436.5 1232.2h0M1439.1 1232.2h0M1441.8 1232.2h0M1444.4 1232.2h0M1447.1 1232.2h0M1449.7 1232.2h0M1452.4 1232.2h0M1455 1232.2h0M1457.7 1232.2h0M1460.3 1232.2h0M1463 1232.2h0M1465.6 1232.2h0M1468.3 1232.2h0M1470.9 1232.2h0M1473.6 1232.2h0M1476.2 1232.2h0M1478.9 1232.2h0M1481.5 1232.2h0M1484.2 1232.2h0M1486.8 1232.2h0M1489.5 1232.2h0M1492.1 1232.2h0M1494.8 1232.2h0M1497.4 1232.2h0M1500.1 1232.2h0M1502.7 1232.2h0M1505.4 1232.2h0M1508 1232.2h0M1510.7 1232.2h0M1513.3 1232.2h0M1516 1232.2h0M1518.6 1232.2h0M1521.3 1232.2h0M1523.9 1232.2h0M1526.6 1232.2h0M1529.2 1232.2h0M1531.9 1232.2h0M1534.5 1232.2h0M1537.2 1232.2h0M1539.8 1232.2h0M1542.5 1232.2h0M1545.1 1232.2h0M1547.8 1232.2h0M1550.4 1232.2h0M1553.1 1232.2h0M1555.7 1232.2h0M1558.4 1232.2h0M1561 1232.2h0M1563.7 1232.2h0M1566.3 1232.2h0M1569 1232.2h0M1571.6 1232.2h0M1574.3 1232.2h0M1576.9 1232.2h0M1579.6 1232.2h0M1582.2 1232.2h0M1584.9 1232.2h0M1587.5 1232.2h0M1590.2 1232.2h0M1592.9 1232.2h0M1595.5 1232.2h0M1598.2 1232.2h0M1600.8 1232.2h0M1603.5 1232.2h0M1606.1 1232.2h0M1608.8 1232.2h0M1611.4 1232.2h0M1614.1 1232.2h0M1616.7 1232.2h0M1619.4 1232.2h0M1622 1232.2h0M1624.7 1232.2h0M1627.3 1232.2h0M1630 1232.2h0M1632.6 1232.2h0M1635.3 1232.2h0M1637.9 1232.2h0M1640.6 1232.2h0M1643.2 1232.2h0M1645.9 1232.2h0M1648.5 1232.2h0M1651.2 1232.2h0M1653.8 1232.2h0M1656.5 1232.2h0M1659.1 1232.2h0M1661.8 1232.2h0M1664.4 1232.2h0M1667.1 1232.2h0M1669.7 1232.2h0M1672.4 1232.2h0M1675 1232.2h0M1677.7 1232.2h0M1680.3 1232.2h0M1683 1232.2h0M1685.6 1232.2h0M1688.3 1232.2h0M1690.9 1232.2h0M1693.6 1232.2h0M1696.2 1232.2h0M1698.9 1232.2h0M1701.5 1232.2h0M1704.2 1232.2h0M1706.8 1232.2h0M1709.5 1232.2h0M1712.1 1232.2h0M1714.8 1232.2h0M1717.4 1232.2h0M1720.1 1232.2h0M1722.7 1232.2h0M1725.4 1232.2h0M1728 1232.2h0M1730.7 1232.2h0M1733.3 1232.2h0M1736 1232.2h0M1738.6 1232.2h0M1741.3 1232.2h0M1743.9 1232.2h0M1746.6 1232.2h0M1749.2 1232.2h0M1751.9 1232.2h0M1754.5 1232.2h0M1757.2 1232.2h0M1759.8 1232.2h0M1762.5 1232.2h0M1765.1 1232.2h0M1767.8 1232.2h0M1770.4 1232.2h0M1773.1 1232.2h0M1775.7 1232.2h0M1778.4 1232.2h0M1781 1232.2h0M1783.7 1232.2h0M1786.3 1232.2h0M1789 1232.2h0M1791.6 1232.2h0M1794.3 1232.2h0M1796.9 1232.2h0M1799.6 1232.2h0M1802.2 1232.2h0M1804.9 1232.2h0M1807.5 1232.2h0M1810.2 1232.2h0M1812.8 1232.2h0M1815.5 1232.2h0M1818.1 1232.2h0M1820.8 1232.2h0M1823.4 1232.2h0M1826.1 1232.2h0M1828.7 1232.2h0M1831.4 1232.2h0M1834 1232.2h0M1836.7 1232.2h0M1839.3 1232.2h0M1842 1232.2h0M1844.6 1232.2h0M1847.3 1232.2h0M1849.9 1232.2h0M1852.6 1232.2h0M1855.3 1232.2h0M1857.9 1232.2h0M1860.6 1232.2h0M1863.2 1232.2h0M1865.9 1232.2h0M1868.5 1232.2h0M1871.2 1232.2h0M1873.8 1232.2h0M1876.5 1232.2h0M1879.1 1232.2h0M1881.8 1232.2h0M1884.4 1232.2h0M1887.1 1232.2h0M1889.7 1232.2h0M1892.4 1232.2h0M1895 1232.2h0M1897.7 1232.2h0M1900.3 1232.2h0M1903 1232.2h0M1905.6 1232.2h0M1908.3 1232.2h0M1910.9 1232.2h0M1913.6 1232.2h0M1916.2 1232.2h0M1918.9 1232.2h0M1921.5 1232.2h0M1924.2 1232.2h0M1926.8 1232.2h0M1929.5 1232.2h0M1932.1 1232.2h0M1934.8 1232.2h0" fill="none" stroke="#E679A8" stroke-width="24" stroke-linecap="round"/>
</g>
<line x1="167" x2="182.5" y1="1232.2" y2="1232.2" stroke="#333333" stroke-width="5.8"/>
<line x1="167" x2="182.5" y1="878.5" y2="878.5" stroke="#333333" stroke-width="5.8"/>
<line x1="167" x2="182.5" y1="524.7" y2="524.7" stroke="#333333" stroke-width="5.8"/>
<line x1="167" x2="182.5" y1="171" y2="171" stroke="#333333" stroke-width="5.8"/>
<line x1="262.3" x2="262.3" y1="1359.3" y2="1374.8" stroke="#333333" stroke-width="5.8"/>
<line x1="792.4" x2="792.4" y1="1359.3" y2="1374.8" stroke="#333333" stroke-width="5.8"/>
<line x1="1322.5" x2="1322.5" y1="1359.3" y2="1374.8" stroke="#333333" stroke-width="5.8"/>
<line x1="1852.6" x2="1852.6" y1="1359.3" y2="1374.8" stroke="#333333" stroke-width="5.8"/>
<text x="155" y="1248.5" text-anchor="end" class="tk">0</text>
<text x="155" y="894.8" text-anchor="end" class="tk">5</text>
<text x="155" y="541" text-anchor="end" class="tk">10</text>
<text x="155" y="187.3" text-anchor="end" class="tk">15</text>
<text x="262.3" y="1421.6" text-anchor="middle" class="tk">0</text>
<text x="792.4" y="1421.6" text-anchor="middle" class="tk">200</text>
<text x="1322.5" y="1421.6" text-anchor="middle" class="tk">400</text>
<text x="1852.6" y="1421.6" text-anchor="middle" class="tk">600</text>
<text x="1101.5" y="1494.7" text-anchor="middle" class="ax">Position (AA)</text>
<text transform="translate(72.1 737) rotate(-90)" text-anchor="middle" class="ax">Average Per-Individual Depth</text>
<text x="2109.3" y="651.5" class="lt">sex</text>
<rect x="2111.5" y="690.5" width="86.7" height="86" fill="#F2F2F2"/>
<line x1="2118" x2="2192.7" y1="733.5" y2="733.5" stroke="#00B4E6" stroke-width="5.3"/>
<circle cx="2155" cy="733.5" r="12" fill="#00B4E6"/>
<text x="2230.5" y="751.2" class="lg">M</text>
<rect x="2111.5" y="785" width="86.7" height="86.2" fill="#F2F2F2"/>
<line x1="2118" x2="2192.7" y1="828.1" y2="828.1" stroke="#E679A8" stroke-width="5.3"/>
<circle cx="2155" cy="828.1" r="12" fill="#E679A8"/>
<text x="2230.5" y="845.2" class="lg">F</text>
<text x="75.4" y="1647.1" class="tag">B</text>
<text x="606.8" y="1619.2" class="ti">Average Depth Along BCORY2</text>
<rect x="182.5" y="1666.5" width="1836.7" height="1246" fill="#EBEBEB"/>
<g clip-path="url(#clipB)">
<line x1="182.5" x2="2019.2" y1="2623.9" y2="2623.9" stroke="#fff" stroke-width="2.6"/>
<line x1="182.5" x2="2019.2" y1="2291.8" y2="2291.8" stroke="#fff" stroke-width="2.6"/>
<line x1="182.5" x2="2019.2" y1="1959.6" y2="1959.6" stroke="#fff" stroke-width="2.6"/>
<line x1="528.4" x2="528.4" y1="1666.5" y2="2912.5" stroke="#fff" stroke-width="2.6"/>
<line x1="1060.8" x2="1060.8" y1="1666.5" y2="2912.5" stroke="#fff" stroke-width="2.6"/>
<line x1="1593.2" x2="1593.2" y1="1666.5" y2="2912.5" stroke="#fff" stroke-width="2.6"/>
<line x1="182.5" x2="2019.2" y1="2790" y2="2790" stroke="#fff" stroke-width="5.0"/>
<line x1="182.5" x2="2019.2" y1="2457.8" y2="2457.8" stroke="#fff" stroke-width="5.0"/>
<line x1="182.5" x2="2019.2" y1="2125.7" y2="2125.7" stroke="#fff" stroke-width="5.0"/>
<line x1="182.5" x2="2019.2" y1="1793.5" y2="1793.5" stroke="#fff" stroke-width="5.0"/>
<line x1="262.2" x2="262.2" y1="1666.5" y2="2912.5" stroke="#fff" stroke-width="5.0"/>
<line x1="794.6" x2="794.6" y1="1666.5" y2="2912.5" stroke="#fff" stroke-width="5.0"/>
<line x1="1327" x2="1327" y1="1666.5" y2="2912.5" stroke="#fff" stroke-width="5.0"/>
<line x1="1859.4" x2="1859.4" y1="1666.5" y2="2912.5" stroke="#fff" stroke-width="5.0"/>
<line x1="182.5" x2="2019.2" y1="2623.9" y2="2623.9" stroke="#000" stroke-width="6.0" stroke-dasharray="23 23.03"/>
<line x1="182.5" x2="2019.2" y1="2457.8" y2="2457.8" stroke="#000" stroke-width="6.0" stroke-dasharray="23 23.03"/>
<line x1="182.5" x2="2019.2" y1="2291.8" y2="2291.8" stroke="#000" stroke-width="6.0" stroke-dasharray="23 23.03"/>
<line x1="182.5" x2="2019.2" y1="2125.7" y2="2125.7" stroke="#000" stroke-width="6.0" stroke-dasharray="23 23.03"/>
<line x1="182.5" x2="2019.2" y1="1959.6" y2="1959.6" stroke="#000" stroke-width="6.0" stroke-dasharray="23 23.03"/>
<line x1="182.5" x2="2019.2" y1="1793.5" y2="1793.5" stroke="#000" stroke-width="6.0" stroke-dasharray="23 23.03"/>
<polyline points="264.9,2856.4 267.5,2856.4 270.2,2856.4 272.8,2124 275.5,2136.1 278.2,2157.8 280.8,2180.3 283.5,2202 286.2,2224.4 288.8,2244 291.5,2239.9 294.1,2235.1 296.8,2219.2 299.5,2196.3 302.1,2166.8 304.8,2139.5 307.5,2121.9 310.1,2119.6 312.8,2117.3 315.4,2119.7 318.1,2122.8 320.8,2127.2 323.4,2140.7 326.1,2156.2 328.8,2172.1 331.4,2188 334.1,2209.2 336.7,2221.1 339.4,2230.3 342.1,2234.2 344.7,2238.1 347.4,2242 350,2245.9 352.7,2249.4 355.4,2253 358,2256.6 360.7,2258.5 363.4,2259.8 366,2261 368.7,2262.1 371.3,2262.3 374,2262.6 376.7,2262.9 379.3,2263.6 382,2264.8 384.7,2266 387.3,2267.2 390,2269.4 392.6,2273 395.3,2276.7 398,2291.2 400.6,2306.2 403.3,2315.7 405.9,2314.6 408.6,2313.6 411.3,2311.7 413.9,2309.1 416.6,2306.4 419.3,2306 421.9,2308.3 424.6,2310.5 427.2,2312.7 429.9,2314.9 432.6,2316.3 435.2,2317.6 437.9,2318.9 440.6,2318.7 443.2,2312.3 445.9,2305.9 448.5,2299.5 451.2,2293.1 453.9,2286.7 456.5,2281.4 459.2,2276.9 461.9,2272.4 464.5,2267.9 467.2,2268.2 469.8,2277.1 472.5,2286 475.2,2294.8 477.8,2303.7 480.5,2309.6 483.1,2315.4 485.8,2321.1 488.5,2326.8 491.1,2326.3 493.8,2293.6 496.5,2256.2 499.1,2268.8 501.8,2281.4 504.4,2293.9 507.1,2295 509.8,2290.6 512.4,2286.2 515.1,2281.8 517.8,2277.4 520.4,2272.9 523.1,2268.5 525.7,2268 528.4,2268 531.1,2268 533.7,2268 536.4,2268 539,2268 541.7,2267.8 544.4,2264 547,2260.2 549.7,2256.3 552.4,2252.5 555,2249.4 557.7,2254 560.3,2258.7 563,2263.4 565.7,2268 568.3,2272.7 571,2277.7 573.7,2282.8 576.3,2287.9 579,2293 581.6,2298.4 584.3,2304 587,2309.5 589.6,2315.1 592.3,2320.2 595,2321.6 597.6,2323 600.3,2324.5 602.9,2325.9 605.6,2326 608.3,2321.6 610.9,2317.3 613.6,2312.9 616.2,2308.5 618.9,2304.2 621.6,2298.1 624.2,2281.3 626.9,2266.3 629.6,2252.8 632.2,2244.7 634.9,2237.2 637.5,2229.7 640.2,2224 642.9,2218.3 645.5,2209.8 648.2,2190.8 650.9,2172.7 653.5,2154.8 656.2,2148.1 658.8,2141.8 661.5,2145.4 664.2,2150 666.8,2155.1 669.5,2165.5 672.1,2176 674.8,2186.7 677.5,2197.4 680.1,2202.2 682.8,2207 685.5,1889 688.1,1871.9 690.8,1869.2 693.4,1866.5 696.1,1863.8 698.8,1866.9 701.4,1876.2 704.1,1885.6 706.8,1896.3 709.4,1916.1 712.1,1934.9 714.7,1948 717.4,1957.9 720.1,1963.3 722.7,1968.6 725.4,1971.8 728,1973.5 730.7,1975.1 733.4,1976.8 736,1978.4 738.7,1979 741.4,1979.5 744,1980.3 746.7,2016.8 749.3,2052.5 752,2084.1 754.7,2105.8 757.3,2123.9 760,2114.9 762.7,2106 765.3,2097 768,2088.1 770.6,2095.7 773.3,2103.5 776,2111.3 778.6,2120.7 781.3,2134.9 784,2149.2 786.6,2163.5 789.3,2174.4 791.9,2185 794.6,2195.5 797.3,2196.3 799.9,2187.6 802.6,2179 805.2,2170.3 807.9,2161.3 810.6,2143.4 813.2,2125.6 815.9,2107.8 818.6,2090.4 821.2,2073.2 823.9,2060.6 826.5,2053.8 829.2,2047 831.9,2040.2 834.5,2033.4 837.2,2026.6 839.9,2023.1 842.5,2026.5 845.2,2029.9 847.8,2033.4 850.5,2036.8 853.2,2039 855.8,2023 858.5,2007.1 861.1,1989.9 863.8,1972.5 866.5,1963 869.1,1956.3 871.8,1949.5 874.5,1947.5 877.1,1945.8 879.8,1945.8 882.4,1947.4 885.1,1949.4 887.8,1959.5 890.4,1970.6 893.1,1986.6 895.8,2002.5 898.4,2018.5 901.1,2032.1 903.7,2042.1 906.4,2052.2 909.1,2062.2 911.7,2072.2 914.4,2082.2 917.1,2092.1 919.7,2098.5 922.4,2104.9 925,2111.3 927.7,2117.7 930.4,2123.9 933,2129.3 935.7,2134.6 938.3,2140 941,2145.3 943.7,2143.5 946.3,2138.2 949,2132.8 951.7,2127.5 954.3,2120.1 957,2104.3 959.6,2088.4 962.3,2078.3 965,2068.5 967.6,2058.6 970.3,2053 973,2050.1 975.6,1925 978.3,1909.4 980.9,1893.8 983.6,1879.2 986.3,1865 988.9,1858 991.6,1855 994.2,1853.9 996.9,1858.7 999.6,1863.5 1002.2,1868.2 1004.9,1871.3 1007.6,1872.7 1010.2,1874 1012.9,1875.3 1015.5,1877.9 1018.2,1882.6 1020.9,1887.3 1023.5,1900.5 1026.2,1916.1 1028.9,1928.7 1031.5,1939.3 1034.2,1944.6 1036.8,1949.9 1039.5,1955.2 1042.2,1951.5 1044.8,1946.1 1047.5,1940.8 1050.2,1935.5 1052.8,1929.7 1055.5,1919 1058.1,1899.8 1060.8,1863.1 1063.5,1840.4 1066.1,1831.4 1068.8,1824.3 1071.4,1822.1 1074.1,1819.9 1076.8,1816.7 1079.4,1812 1082.1,1799.4 1084.8,1783.5 1087.4,1764.3 1090.1,1744.7 1092.7,1729.3 1095.4,1724.5 1098.1,1733.8 1100.7,1741.9 1103.4,1749.5 1106.1,1752.2 1108.7,1748.2 1111.4,1753.1 1114,1744.7 1116.7,1748.4 1119.4,1740 1122,1743 1124.7,1734.7 1127.3,1733.3 1130,1732 1132.7,1730.2 1135.3,1728.4 1138,1725.9 1140.7,1723 1143.3,1726.2 1146,1732.7 1148.6,1750.3 1151.3,1777.8 1154,1795.6 1156.6,1812.9 1159.3,1829.6 1162,1843.2 1164.6,1855 1167.3,1866 1169.9,1877 1172.6,1887.2 1175.3,1897.1 1177.9,1907.1 1180.6,1917 1183.3,1926.9 1185.9,1935.2 1188.6,1939.1 1191.2,1943 1193.9,1946.9 1196.6,2179.6 1199.2,2169.6 1201.9,2159.7 1204.5,2149.8 1207.2,2139.9 1209.9,2133.7 1212.5,2127.4 1215.2,2121.2 1217.9,2115 1220.5,2112.3 1223.2,2123.8 1225.8,2135.3 1228.5,2146.9 1231.2,2158 1233.8,2169.1 1236.5,2180.2 1239.2,2191.3 1241.8,2196.5 1244.5,2188.4 1247.1,2180.2 1249.8,2172.1 1252.5,2163.9 1255.1,2166.4 1257.8,2169.4 1260.5,2172.5 1263.1,2175.5 1265.8,2177.4 1268.4,2174.1 1271.1,2170.8 1273.8,2167.5 1276.4,2164.1 1279.1,2160.8 1281.7,2162.2 1284.4,2165.6 1287.1,2169.1 1289.7,2172.5 1292.4,2175.9 1295.1,2183.6 1297.7,2191.6 1300.4,2199.5 1303,2207.5 1305.7,2213 1308.4,2217.9 1311,2222.8 1313.7,2227.7 1316.4,2224.4 1319,2218.2 1321.7,2211.9 1324.3,2205.7 1327,2196.5 1329.7,2185.6 1332.3,2174.7 1335,2181.2 1337.6,2189 1340.3,2199.2 1343,2209.9 1345.6,2566 1348.3,2567 1351,2567 1353.6,2567 1356.3,2566 1358.9,2566 1361.6,2565 1364.3,2563 1366.9,2561 1369.6,2557 1372.3,2550.1 1374.9,2540.9 1377.6,2526.1 1380.2,2507.7 1382.9,2490 1385.6,2452.5 1388.2,2426.8 1390.9,2403.1 1393.5,2385.7 1396.2,2372.1 1398.9,2385.9 1401.5,2372.2 1404.2,2384 1406.9,2368.2 1409.5,2377.8 1412.2,2359.1 1414.8,2337.6 1417.5,2312 1420.2,2300.1 1422.8,2313.8 1425.5,2300 1428.2,2311.8 1430.8,2300.1 1433.5,2309.9 1436.1,2300.1 1438.8,2308 1441.5,2305.3 1444.1,2303.1 1446.8,2304 1449.5,2304.8 1452.1,2303.6 1454.8,2301.8 1457.4,2299.9 1460.1,2298 1462.8,2292.7 1465.4,2287.4 1468.1,2282 1470.7,2275.5 1473.4,2269 1476.1,2856.4 1478.7,2856.4 1481.4,2856.4 1484.1,2856.4 1486.7,2856.4 1489.4,2856.4 1492,2856.4 1494.7,2856.4 1497.4,2856.4 1500,2856.4 1502.7,2856.4 1505.4,2856.4 1508,2856.4 1510.7,2856.4 1513.3,2856.4 1516,2856.4 1518.7,2856.4 1521.3,2856.4 1524,2856.4 1526.7,2856.4 1529.3,2856.4 1532,2856.4 1534.6,2856.4 1537.3,2856.4 1540,2856.4 1542.6,2856.4 1545.3,2349.8 1547.9,2346.5 1550.6,2343.3 1553.3,2340.8 1555.9,2341.5 1558.6,2342.2 1561.3,2342.9 1563.9,2343.6 1566.6,2337.1 1569.2,2327.2 1571.9,2317.3 1574.6,2307.3 1577.2,2297.4 1579.9,2297.6 1582.6,2305.8 1585.2,2314 1587.9,2322.9 1590.5,2336.1 1593.2,2349.3 1595.9,2353.1 1598.5,2355.3 1601.2,2357.4 1603.8,2355.8 1606.5,2354.3 1609.2,2352.8 1611.8,2351.4 1614.5,2354.1 1617.2,2356.8 1619.8,2359.4 1622.5,2362.1 1625.1,2364.8 1627.8,2367.5 1630.5,2370.1 1633.1,2371.9 1635.8,2370.8 1638.5,2369.7 1641.1,2369.1 1643.8,2368.6 1646.4,2368.1 1649.1,2386.1 1651.8,2408.2 1654.4,2427.9 1657.1,2443.4 1659.8,2456.8 1662.4,2468.4 1665.1,2476.4 1667.7,2484.3 1670.4,2253.8 1673.1,2233.9 1675.7,2220.3 1678.4,2210.4 1681,2200.4 1683.7,2188.7 1686.4,2175.3 1689,2162 1691.7,2151.4 1694.4,2144.7 1697,2138.1 1699.7,2131.4 1702.3,2124.7 1705,2113.1 1707.7,2100 1710.3,2091.1 1713,2089.1 1715.7,2087 1718.3,2085 1721,2086.4 1723.6,2091.1 1726.3,2095.8 1729,2100.5 1731.6,2123.2 1734.3,2190.7 1736.9,2226.3 1739.6,2278.3 1742.3,2313.1 1744.9,2319.5 1747.6,2323.2 1750.3,2326.9 1752.9,2330.6 1755.6,2336 1758.2,2341.3 1760.9,2346.6 1763.6,2350.9 1766.2,2355 1768.9,2359.1 1771.6,2366.2 1774.2,2374.3 1776.9,2383.2 1779.5,2394.3 1782.2,2405.4 1784.9,2407.4 1787.5,2409.1 1790.2,2410.7 1792.8,2412.4 1795.5,2416.9 1798.2,2427 1800.8,2437.5 1803.5,2457.3 1806.2,2473.7 1808.8,2487.5 1811.5,2489.2 1814.1,2490.8 1816.8,2492.5 1819.5,2494.2 1822.1,2495.9 1824.8,2497.6 1827.5,2503.3 1830.1,2510.1 1832.8,2518.5 1835.4,2528.5 1838.1,2536 1840.8,2534.8 1843.4,2533.6 1846.1,2532.4 1848.8,2531.2 1851.4,2530 1854.1,2528.7 1856.7,2528.8 1859.4,2529.1 1862.1,2529.3 1864.7,2529.6 1867.4,2529.9 1870,2530.3 1872.7,2532.7 1875.4,2535.2 1878,2537.6 1880.7,2540 1883.4,2542.4 1886,2544.5 1888.7,2545.8 1891.3,2547.1 1894,2548.4 1896.7,2549.7 1899.3,2551 1902,2550.1 1904.7,2547.4 1907.3,2544.8 1910,2519.3 1912.6,2504.3 1915.3,2475.1 1918,2435.7 1920.6,2398.1 1923.3,2363.6 1926,2331.7 1928.6,2312.5 1931.3,2298.2 1933.9,2292.2 1936.6,2286.1" fill="none" stroke="#00B4E6" stroke-width="5.3" stroke-linejoin="round" stroke-linecap="butt"/>
<polyline points="264.9,2856.4 267.5,2856.4 270.2,2856.4 272.8,2790 275.5,2790 278.2,2790 280.8,2790 283.5,2790 286.2,2790 288.8,2790 291.5,2790 294.1,2790 296.8,2790 299.5,2790 302.1,2790 304.8,2790 307.5,2790 310.1,2790 312.8,2790 315.4,2790 318.1,2790 320.8,2790 323.4,2790 326.1,2790 328.8,2790 331.4,2790 334.1,2790 336.7,2790 339.4,2790 342.1,2790 344.7,2790 347.4,2790 350,2790 352.7,2790 355.4,2790 358,2790 360.7,2790 363.4,2790 366,2790 368.7,2790 371.3,2790 374,2790 376.7,2790 379.3,2790 382,2790 384.7,2790 387.3,2790 390,2790 392.6,2790 395.3,2790 398,2790 400.6,2790 403.3,2790 405.9,2790 408.6,2790 411.3,2790 413.9,2790 416.6,2790 419.3,2790 421.9,2790 424.6,2790 427.2,2790 429.9,2790 432.6,2790 435.2,2790 437.9,2790 440.6,2790 443.2,2790 445.9,2790 448.5,2790 451.2,2790 453.9,2790 456.5,2790 459.2,2790 461.9,2790 464.5,2790 467.2,2790 469.8,2790 472.5,2790 475.2,2790 477.8,2790 480.5,2790 483.1,2790 485.8,2790 488.5,2790 491.1,2790 493.8,2790 496.5,2790 499.1,2790 501.8,2790 504.4,2790 507.1,2790 509.8,2790 512.4,2790 515.1,2790 517.8,2790 520.4,2790 523.1,2790 525.7,2790 528.4,2790 531.1,2790 533.7,2790 536.4,2790 539,2790 541.7,2790 544.4,2790 547,2790 549.7,2790 552.4,2790 555,2790 557.7,2790 560.3,2790 563,2790 565.7,2790 568.3,2790 571,2790 573.7,2790 576.3,2790 579,2790 581.6,2790 584.3,2790 587,2790 589.6,2790 592.3,2790 595,2790 597.6,2790 600.3,2790 602.9,2790 605.6,2790 608.3,2790 610.9,2790 613.6,2790 616.2,2790 618.9,2790 621.6,2790 624.2,2790 626.9,2790 629.6,2790 632.2,2790 634.9,2790 637.5,2790 640.2,2790 642.9,2790 645.5,2790 648.2,2790 650.9,2790 653.5,2790 656.2,2790 658.8,2790 661.5,2790 664.2,2790 666.8,2790 669.5,2790 672.1,2790 674.8,2790 677.5,2790 680.1,2790 682.8,2790 685.5,2790 688.1,2790 690.8,2790 693.4,2790 696.1,2790 698.8,2790 701.4,2790 704.1,2790 706.8,2790 709.4,2790 712.1,2790 714.7,2790 717.4,2790 720.1,2790 722.7,2790 725.4,2790 728,2790 730.7,2790 733.4,2790 736,2790 738.7,2790 741.4,2790 744,2790 746.7,2790 749.3,2790 752,2790 754.7,2790 757.3,2790 760,2790 762.7,2790 765.3,2790 768,2790 770.6,2790 773.3,2790 776,2790 778.6,2790 781.3,2790 784,2790 786.6,2790 789.3,2790 791.9,2790 794.6,2790 797.3,2790 799.9,2790 802.6,2790 805.2,2790 807.9,2790 810.6,2790 813.2,2790 815.9,2790 818.6,2790 821.2,2790 823.9,2790 826.5,2790 829.2,2790 831.9,2790 834.5,2790 837.2,2790 839.9,2790 842.5,2790 845.2,2790 847.8,2790 850.5,2790 853.2,2790 855.8,2790 858.5,2790 861.1,2790 863.8,2790 866.5,2790 869.1,2790 871.8,2790 874.5,2790 877.1,2790 879.8,2790 882.4,2790 885.1,2790 887.8,2790 890.4,2790 893.1,2790 895.8,2790 898.4,2790 901.1,2790 903.7,2790 906.4,2790 909.1,2790 911.7,2790 914.4,2790 917.1,2790 919.7,2790 922.4,2790 925,2790 927.7,2790 930.4,2790 933,2790 935.7,2790 938.3,2790 941,2790 943.7,2790 946.3,2790 949,2790 951.7,2790 954.3,2790 957,2790 959.6,2790 962.3,2790 965,2790 967.6,2790 970.3,2790 973,2790 975.6,2790 978.3,2790 980.9,2790 983.6,2790 986.3,2790 988.9,2790 991.6,2790 994.2,2790 996.9,2790 999.6,2790 1002.2,2790 1004.9,2790 1007.6,2790 1010.2,2790 1012.9,2790 1015.5,2790 1018.2,2790 1020.9,2790 1023.5,2790 1026.2,2790 1028.9,2790 1031.5,2790 1034.2,2790 1036.8,2790 1039.5,2790 1042.2,2790 1044.8,2790 1047.5,2790 1050.2,2790 1052.8,2790 1055.5,2790 1058.1,2790 1060.8,2790 1063.5,2790 1066.1,2790 1068.8,2790 1071.4,2790 1074.1,2790 1076.8,2790 1079.4,2790 1082.1,2790 1084.8,2790 1087.4,2790 1090.1,2790 1092.7,2790 1095.4,2790 1098.1,2790 1100.7,2790 1103.4,2790 1106.1,2790 1108.7,2790 1111.4,2790 1114,2790 1116.7,2790 1119.4,2790 1122,2790 1124.7,2790 1127.3,2790 1130,2790 1132.7,2790 1135.3,2790 1138,2790 1140.7,2790 1143.3,2790 1146,2790 1148.6,2790 1151.3,2790 1154,2790 1156.6,2790 1159.3,2790 1162,2790 1164.6,2790 1167.3,2790 1169.9,2790 1172.6,2790 1175.3,2790 1177.9,2790 1180.6,2790 1183.3,2790 1185.9,2790 1188.6,2790 1191.2,2790 1193.9,2790 1196.6,2790 1199.2,2790 1201.9,2790 1204.5,2790 1207.2,2790 1209.9,2790 1212.5,2790 1215.2,2790 1217.9,2790 1220.5,2790 1223.2,2790 1225.8,2790 1228.5,2790 1231.2,2790 1233.8,2790 1236.5,2790 1239.2,2790 1241.8,2790 1244.5,2790 1247.1,2790 1249.8,2790 1252.5,2790 1255.1,2790 1257.8,2790 1260.5,2790 1263.1,2790 1265.8,2790 1268.4,2790 1271.1,2790 1273.8,2790 1276.4,2790 1279.1,2790 1281.7,2790 1284.4,2790 1287.1,2790 1289.7,2790 1292.4,2790 1295.1,2790 1297.7,2790 1300.4,2790 1303,2790 1305.7,2790 1308.4,2790 1311,2790 1313.7,2790 1316.4,2790 1319,2790 1321.7,2790 1324.3,2790 1327,2790 1329.7,2790 1332.3,2790 1335,2790 1337.6,2790 1340.3,2790 1343,2790 1345.6,2790 1348.3,2790 1351,2790 1353.6,2790 1356.3,2790 1358.9,2790 1361.6,2790 1364.3,2790 1366.9,2790 1369.6,2790 1372.3,2790 1374.9,2790 1377.6,2790 1380.2,2790 1382.9,2790 1385.6,2790 1388.2,2790 1390.9,2790 1393.5,2790 1396.2,2790 1398.9,2790 1401.5,2790 1404.2,2790 1406.9,2790 1409.5,2790 1412.2,2790 1414.8,2790 1417.5,2790 1420.2,2790 1422.8,2790 1425.5,2790 1428.2,2790 1430.8,2790 1433.5,2790 1436.1,2790 1438.8,2790 1441.5,2790 1444.1,2790 1446.8,2790 1449.5,2790 1452.1,2790 1454.8,2790 1457.4,2790 1460.1,2790 1462.8,2790 1465.4,2790 1468.1,2790 1470.7,2790 1473.4,2790 1476.1,2856.4 1478.7,2856.4 1481.4,2856.4 1484.1,2856.4 1486.7,2856.4 1489.4,2856.4 1492,2856.4 1494.7,2856.4 1497.4,2856.4 1500,2856.4 1502.7,2856.4 1505.4,2856.4 1508,2856.4 1510.7,2856.4 1513.3,2856.4 1516,2856.4 1518.7,2856.4 1521.3,2856.4 1524,2856.4 1526.7,2856.4 1529.3,2856.4 1532,2856.4 1534.6,2856.4 1537.3,2856.4 1540,2856.4 1542.6,2856.4 1545.3,2790 1547.9,2790 1550.6,2790 1553.3,2790 1555.9,2790 1558.6,2790 1561.3,2790 1563.9,2790 1566.6,2790 1569.2,2790 1571.9,2790 1574.6,2790 1577.2,2790 1579.9,2790 1582.6,2790 1585.2,2790 1587.9,2790 1590.5,2790 1593.2,2790 1595.9,2790 1598.5,2790 1601.2,2790 1603.8,2790 1606.5,2790 1609.2,2790 1611.8,2790 1614.5,2790 1617.2,2790 1619.8,2790 1622.5,2790 1625.1,2790 1627.8,2790 1630.5,2790 1633.1,2790 1635.8,2790 1638.5,2790 1641.1,2790 1643.8,2790 1646.4,2790 1649.1,2790 1651.8,2790 1654.4,2790 1657.1,2790 1659.8,2790 1662.4,2790 1665.1,2790 1667.7,2790 1670.4,2790 1673.1,2790 1675.7,2790 1678.4,2790 1681,2790 1683.7,2790 1686.4,2790 1689,2790 1691.7,2790 1694.4,2790 1697,2790 1699.7,2790 1702.3,2790 1705,2790 1707.7,2790 1710.3,2790 1713,2790 1715.7,2790 1718.3,2790 1721,2790 1723.6,2790 1726.3,2790 1729,2790 1731.6,2790 1734.3,2790 1736.9,2790 1739.6,2790 1742.3,2790 1744.9,2790 1747.6,2790 1750.3,2790 1752.9,2790 1755.6,2790 1758.2,2790 1760.9,2790 1763.6,2790 1766.2,2790 1768.9,2790 1771.6,2790 1774.2,2790 1776.9,2790 1779.5,2790 1782.2,2790 1784.9,2790 1787.5,2790 1790.2,2790 1792.8,2790 1795.5,2790 1798.2,2790 1800.8,2790 1803.5,2790 1806.2,2790 1808.8,2790 1811.5,2790 1814.1,2790 1816.8,2790 1819.5,2790 1822.1,2790 1824.8,2790 1827.5,2790 1830.1,2790 1832.8,2790 1835.4,2790 1838.1,2790 1840.8,2790 1843.4,2790 1846.1,2790 1848.8,2790 1851.4,2790 1854.1,2790 1856.7,2790 1859.4,2790 1862.1,2790 1864.7,2790 1867.4,2790 1870,2790 1872.7,2790 1875.4,2790 1878,2790 1880.7,2790 1883.4,2790 1886,2790 1888.7,2790 1891.3,2790 1894,2790 1896.7,2790 1899.3,2790 1902,2790 1904.7,2790 1907.3,2790 1910,2790 1912.6,2790 1915.3,2790 1918,2790 1920.6,2790 1923.3,2790 1926,2790 1928.6,2790 1931.3,2790 1933.9,2790 1936.6,2790" fill="none" stroke="#E679A8" stroke-width="5.3" stroke-linejoin="round" stroke-linecap="butt"/>
<path d="M264.9 2856.4h0M267.5 2856.4h0M270.2 2856.4h0M272.8 2124h0M275.5 2136.1h0M278.2 2157.8h0M280.8 2180.3h0M283.5 2202h0M286.2 2224.4h0M288.8 2244h0M291.5 2239.9h0M294.1 2235.1h0M296.8 2219.2h0M299.5 2196.3h0M302.1 2166.8h0M304.8 2139.5h0M307.5 2121.9h0M310.1 2119.6h0M312.8 2117.3h0M315.4 2119.7h0M318.1 2122.8h0M320.8 2127.2h0M323.4 2140.7h0M326.1 2156.2h0M328.8 2172.1h0M331.4 2188h0M334.1 2209.2h0M336.7 2221.1h0M339.4 2230.3h0M342.1 2234.2h0M344.7 2238.1h0M347.4 2242h0M350 2245.9h0M352.7 2249.4h0M355.4 2253h0M358 2256.6h0M360.7 2258.5h0M363.4 2259.8h0M366 2261h0M368.7 2262.1h0M371.3 2262.3h0M374 2262.6h0M376.7 2262.9h0M379.3 2263.6h0M382 2264.8h0M384.7 2266h0M387.3 2267.2h0M390 2269.4h0M392.6 2273h0M395.3 2276.7h0M398 2291.2h0M400.6 2306.2h0M403.3 2315.7h0M405.9 2314.6h0M408.6 2313.6h0M411.3 2311.7h0M413.9 2309.1h0M416.6 2306.4h0M419.3 2306h0M421.9 2308.3h0M424.6 2310.5h0M427.2 2312.7h0M429.9 2314.9h0M432.6 2316.3h0M435.2 2317.6h0M437.9 2318.9h0M440.6 2318.7h0M443.2 2312.3h0M445.9 2305.9h0M448.5 2299.5h0M451.2 2293.1h0M453.9 2286.7h0M456.5 2281.4h0M459.2 2276.9h0M461.9 2272.4h0M464.5 2267.9h0M467.2 2268.2h0M469.8 2277.1h0M472.5 2286h0M475.2 2294.8h0M477.8 2303.7h0M480.5 2309.6h0M483.1 2315.4h0M485.8 2321.1h0M488.5 2326.8h0M491.1 2326.3h0M493.8 2293.6h0M496.5 2256.2h0M499.1 2268.8h0M501.8 2281.4h0M504.4 2293.9h0M507.1 2295h0M509.8 2290.6h0M512.4 2286.2h0M515.1 2281.8h0M517.8 2277.4h0M520.4 2272.9h0M523.1 2268.5h0M525.7 2268h0M528.4 2268h0M531.1 2268h0M533.7 2268h0M536.4 2268h0M539 2268h0M541.7 2267.8h0M544.4 2264h0M547 2260.2h0M549.7 2256.3h0M552.4 2252.5h0M555 2249.4h0M557.7 2254h0M560.3 2258.7h0M563 2263.4h0M565.7 2268h0M568.3 2272.7h0M571 2277.7h0M573.7 2282.8h0M576.3 2287.9h0M579 2293h0M581.6 2298.4h0M584.3 2304h0M587 2309.5h0M589.6 2315.1h0M592.3 2320.2h0M595 2321.6h0M597.6 2323h0M600.3 2324.5h0M602.9 2325.9h0M605.6 2326h0M608.3 2321.6h0M610.9 2317.3h0M613.6 2312.9h0M616.2 2308.5h0M618.9 2304.2h0M621.6 2298.1h0M624.2 2281.3h0M626.9 2266.3h0M629.6 2252.8h0M632.2 2244.7h0M634.9 2237.2h0M637.5 2229.7h0M640.2 2224h0M642.9 2218.3h0M645.5 2209.8h0M648.2 2190.8h0M650.9 2172.7h0M653.5 2154.8h0M656.2 2148.1h0M658.8 2141.8h0M661.5 2145.4h0M664.2 2150h0M666.8 2155.1h0M669.5 2165.5h0M672.1 2176h0M674.8 2186.7h0M677.5 2197.4h0M680.1 2202.2h0M682.8 2207h0M685.5 1889h0M688.1 1871.9h0M690.8 1869.2h0M693.4 1866.5h0M696.1 1863.8h0M698.8 1866.9h0M701.4 1876.2h0M704.1 1885.6h0M706.8 1896.3h0M709.4 1916.1h0M712.1 1934.9h0M714.7 1948h0M717.4 1957.9h0M720.1 1963.3h0M722.7 1968.6h0M725.4 1971.8h0M728 1973.5h0M730.7 1975.1h0M733.4 1976.8h0M736 1978.4h0M738.7 1979h0M741.4 1979.5h0M744 1980.3h0M746.7 2016.8h0M749.3 2052.5h0M752 2084.1h0M754.7 2105.8h0M757.3 2123.9h0M760 2114.9h0M762.7 2106h0M765.3 2097h0M768 2088.1h0M770.6 2095.7h0M773.3 2103.5h0M776 2111.3h0M778.6 2120.7h0M781.3 2134.9h0M784 2149.2h0M786.6 2163.5h0M789.3 2174.4h0M791.9 2185h0M794.6 2195.5h0M797.3 2196.3h0M799.9 2187.6h0M802.6 2179h0M805.2 2170.3h0M807.9 2161.3h0M810.6 2143.4h0M813.2 2125.6h0M815.9 2107.8h0M818.6 2090.4h0M821.2 2073.2h0M823.9 2060.6h0M826.5 2053.8h0M829.2 2047h0M831.9 2040.2h0M834.5 2033.4h0M837.2 2026.6h0M839.9 2023.1h0M842.5 2026.5h0M845.2 2029.9h0M847.8 2033.4h0M850.5 2036.8h0M853.2 2039h0M855.8 2023h0M858.5 2007.1h0M861.1 1989.9h0M863.8 1972.5h0M866.5 1963h0M869.1 1956.3h0M871.8 1949.5h0M874.5 1947.5h0M877.1 1945.8h0M879.8 1945.8h0M882.4 1947.4h0M885.1 1949.4h0M887.8 1959.5h0M890.4 1970.6h0M893.1 1986.6h0M895.8 2002.5h0M898.4 2018.5h0M901.1 2032.1h0M903.7 2042.1h0M906.4 2052.2h0M909.1 2062.2h0M911.7 2072.2h0M914.4 2082.2h0M917.1 2092.1h0M919.7 2098.5h0M922.4 2104.9h0M925 2111.3h0M927.7 2117.7h0M930.4 2123.9h0M933 2129.3h0M935.7 2134.6h0M938.3 2140h0M941 2145.3h0M943.7 2143.5h0M946.3 2138.2h0M949 2132.8h0M951.7 2127.5h0M954.3 2120.1h0M957 2104.3h0M959.6 2088.4h0M962.3 2078.3h0M965 2068.5h0M967.6 2058.6h0M970.3 2053h0M973 2050.1h0M975.6 1925h0M978.3 1909.4h0M980.9 1893.8h0M983.6 1879.2h0M986.3 1865h0M988.9 1858h0M991.6 1855h0M994.2 1853.9h0M996.9 1858.7h0M999.6 1863.5h0M1002.2 1868.2h0M1004.9 1871.3h0M1007.6 1872.7h0M1010.2 1874h0M1012.9 1875.3h0M1015.5 1877.9h0M1018.2 1882.6h0M1020.9 1887.3h0M1023.5 1900.5h0M1026.2 1916.1h0M1028.9 1928.7h0M1031.5 1939.3h0M1034.2 1944.6h0M1036.8 1949.9h0M1039.5 1955.2h0M1042.2 1951.5h0M1044.8 1946.1h0M1047.5 1940.8h0M1050.2 1935.5h0M1052.8 1929.7h0M1055.5 1919h0M1058.1 1899.8h0M1060.8 1863.1h0M1063.5 1840.4h0M1066.1 1831.4h0M1068.8 1824.3h0M1071.4 1822.1h0M1074.1 1819.9h0M1076.8 1816.7h0M1079.4 1812h0M1082.1 1799.4h0M1084.8 1783.5h0M1087.4 1764.3h0M1090.1 1744.7h0M1092.7 1729.3h0M1095.4 1724.5h0M1098.1 1733.8h0M1100.7 1741.9h0M1103.4 1749.5h0M1106.1 1752.2h0M1108.7 1748.2h0M1111.4 1753.1h0M1114 1744.7h0M1116.7 1748.4h0M1119.4 1740h0M1122 1743h0M1124.7 1734.7h0M1127.3 1733.3h0M1130 1732h0M1132.7 1730.2h0M1135.3 1728.4h0M1138 1725.9h0M1140.7 1723h0M1143.3 1726.2h0M1146 1732.7h0M1148.6 1750.3h0M1151.3 1777.8h0M1154 1795.6h0M1156.6 1812.9h0M1159.3 1829.6h0M1162 1843.2h0M1164.6 1855h0M1167.3 1866h0M1169.9 1877h0M1172.6 1887.2h0M1175.3 1897.1h0M1177.9 1907.1h0M1180.6 1917h0M1183.3 1926.9h0M1185.9 1935.2h0M1188.6 1939.1h0M1191.2 1943h0M1193.9 1946.9h0M1196.6 2179.6h0M1199.2 2169.6h0M1201.9 2159.7h0M1204.5 2149.8h0M1207.2 2139.9h0M1209.9 2133.7h0M1212.5 2127.4h0M1215.2 2121.2h0M1217.9 2115h0M1220.5 2112.3h0M1223.2 2123.8h0M1225.8 2135.3h0M1228.5 2146.9h0M1231.2 2158h0M1233.8 2169.1h0M1236.5 2180.2h0M1239.2 2191.3h0M1241.8 2196.5h0M1244.5 2188.4h0M1247.1 2180.2h0M1249.8 2172.1h0M1252.5 2163.9h0M1255.1 2166.4h0M1257.8 2169.4h0M1260.5 2172.5h0M1263.1 2175.5h0M1265.8 2177.4h0M1268.4 2174.1h0M1271.1 2170.8h0M1273.8 2167.5h0M1276.4 2164.1h0M1279.1 2160.8h0M1281.7 2162.2h0M1284.4 2165.6h0M1287.1 2169.1h0M1289.7 2172.5h0M1292.4 2175.9h0M1295.1 2183.6h0M1297.7 2191.6h0M1300.4 2199.5h0M1303 2207.5h0M1305.7 2213h0M1308.4 2217.9h0M1311 2222.8h0M1313.7 2227.7h0M1316.4 2224.4h0M1319 2218.2h0M1321.7 2211.9h0M1324.3 2205.7h0M1327 2196.5h0M1329.7 2185.6h0M1332.3 2174.7h0M1335 2181.2h0M1337.6 2189h0M1340.3 2199.2h0M1343 2209.9h0M1345.6 2566h0M1348.3 2567h0M1351 2567h0M1353.6 2567h0M1356.3 2566h0M1358.9 2566h0M1361.6 2565h0M1364.3 2563h0M1366.9 2561h0M1369.6 2557h0M1372.3 2550.1h0M1374.9 2540.9h0M1377.6 2526.1h0M1380.2 2507.7h0M1382.9 2490h0M1385.6 2452.5h0M1388.2 2426.8h0M1390.9 2403.1h0M1393.5 2385.7h0M1396.2 2372.1h0M1398.9 2385.9h0M1401.5 2372.2h0M1404.2 2384h0M1406.9 2368.2h0M1409.5 2377.8h0M1412.2 2359.1h0M1414.8 2337.6h0M1417.5 2312h0M1420.2 2300.1h0M1422.8 2313.8h0M1425.5 2300h0M1428.2 2311.8h0M1430.8 2300.1h0M1433.5 2309.9h0M1436.1 2300.1h0M1438.8 2308h0M1441.5 2305.3h0M1444.1 2303.1h0M1446.8 2304h0M1449.5 2304.8h0M1452.1 2303.6h0M1454.8 2301.8h0M1457.4 2299.9h0M1460.1 2298h0M1462.8 2292.7h0M1465.4 2287.4h0M1468.1 2282h0M1470.7 2275.5h0M1473.4 2269h0M1476.1 2856.4h0M1478.7 2856.4h0M1481.4 2856.4h0M1484.1 2856.4h0M1486.7 2856.4h0M1489.4 2856.4h0M1492 2856.4h0M1494.7 2856.4h0M1497.4 2856.4h0M1500 2856.4h0M1502.7 2856.4h0M1505.4 2856.4h0M1508 2856.4h0M1510.7 2856.4h0M1513.3 2856.4h0M1516 2856.4h0M1518.7 2856.4h0M1521.3 2856.4h0M1524 2856.4h0M1526.7 2856.4h0M1529.3 2856.4h0M1532 2856.4h0M1534.6 2856.4h0M1537.3 2856.4h0M1540 2856.4h0M1542.6 2856.4h0M1545.3 2349.8h0M1547.9 2346.5h0M1550.6 2343.3h0M1553.3 2340.8h0M1555.9 2341.5h0M1558.6 2342.2h0M1561.3 2342.9h0M1563.9 2343.6h0M1566.6 2337.1h0M1569.2 2327.2h0M1571.9 2317.3h0M1574.6 2307.3h0M1577.2 2297.4h0M1579.9 2297.6h0M1582.6 2305.8h0M1585.2 2314h0M1587.9 2322.9h0M1590.5 2336.1h0M1593.2 2349.3h0M1595.9 2353.1h0M1598.5 2355.3h0M1601.2 2357.4h0M1603.8 2355.8h0M1606.5 2354.3h0M1609.2 2352.8h0M1611.8 2351.4h0M1614.5 2354.1h0M1617.2 2356.8h0M1619.8 2359.4h0M1622.5 2362.1h0M1625.1 2364.8h0M1627.8 2367.5h0M1630.5 2370.1h0M1633.1 2371.9h0M1635.8 2370.8h0M1638.5 2369.7h0M1641.1 2369.1h0M1643.8 2368.6h0M1646.4 2368.1h0M1649.1 2386.1h0M1651.8 2408.2h0M1654.4 2427.9h0M1657.1 2443.4h0M1659.8 2456.8h0M1662.4 2468.4h0M1665.1 2476.4h0M1667.7 2484.3h0M1670.4 2253.8h0M1673.1 2233.9h0M1675.7 2220.3h0M1678.4 2210.4h0M1681 2200.4h0M1683.7 2188.7h0M1686.4 2175.3h0M1689 2162h0M1691.7 2151.4h0M1694.4 2144.7h0M1697 2138.1h0M1699.7 2131.4h0M1702.3 2124.7h0M1705 2113.1h0M1707.7 2100h0M1710.3 2091.1h0M1713 2089.1h0M1715.7 2087h0M1718.3 2085h0M1721 2086.4h0M1723.6 2091.1h0M1726.3 2095.8h0M1729 2100.5h0M1731.6 2123.2h0M1734.3 2190.7h0M1736.9 2226.3h0M1739.6 2278.3h0M1742.3 2313.1h0M1744.9 2319.5h0M1747.6 2323.2h0M1750.3 2326.9h0M1752.9 2330.6h0M1755.6 2336h0M1758.2 2341.3h0M1760.9 2346.6h0M1763.6 2350.9h0M1766.2 2355h0M1768.9 2359.1h0M1771.6 2366.2h0M1774.2 2374.3h0M1776.9 2383.2h0M1779.5 2394.3h0M1782.2 2405.4h0M1784.9 2407.4h0M1787.5 2409.1h0M1790.2 2410.7h0M1792.8 2412.4h0M1795.5 2416.9h0M1798.2 2427h0M1800.8 2437.5h0M1803.5 2457.3h0M1806.2 2473.7h0M1808.8 2487.5h0M1811.5 2489.2h0M1814.1 2490.8h0M1816.8 2492.5h0M1819.5 2494.2h0M1822.1 2495.9h0M1824.8 2497.6h0M1827.5 2503.3h0M1830.1 2510.1h0M1832.8 2518.5h0M1835.4 2528.5h0M1838.1 2536h0M1840.8 2534.8h0M1843.4 2533.6h0M1846.1 2532.4h0M1848.8 2531.2h0M1851.4 2530h0M1854.1 2528.7h0M1856.7 2528.8h0M1859.4 2529.1h0M1862.1 2529.3h0M1864.7 2529.6h0M1867.4 2529.9h0M1870 2530.3h0M1872.7 2532.7h0M1875.4 2535.2h0M1878 2537.6h0M1880.7 2540h0M1883.4 2542.4h0M1886 2544.5h0M1888.7 2545.8h0M1891.3 2547.1h0M1894 2548.4h0M1896.7 2549.7h0M1899.3 2551h0M1902 2550.1h0M1904.7 2547.4h0M1907.3 2544.8h0M1910 2519.3h0M1912.6 2504.3h0M1915.3 2475.1h0M1918 2435.7h0M1920.6 2398.1h0M1923.3 2363.6h0M1926 2331.7h0M1928.6 2312.5h0M1931.3 2298.2h0M1933.9 2292.2h0M1936.6 2286.1h0" fill="none" stroke="#00B4E6" stroke-width="24" stroke-linecap="round"/>
<path d="M264.9 2856.4h0M267.5 2856.4h0M270.2 2856.4h0M272.8 2790h0M275.5 2790h0M278.2 2790h0M280.8 2790h0M283.5 2790h0M286.2 2790h0M288.8 2790h0M291.5 2790h0M294.1 2790h0M296.8 2790h0M299.5 2790h0M302.1 2790h0M304.8 2790h0M307.5 2790h0M310.1 2790h0M312.8 2790h0M315.4 2790h0M318.1 2790h0M320.8 2790h0M323.4 2790h0M326.1 2790h0M328.8 2790h0M331.4 2790h0M334.1 2790h0M336.7 2790h0M339.4 2790h0M342.1 2790h0M344.7 2790h0M347.4 2790h0M350 2790h0M352.7 2790h0M355.4 2790h0M358 2790h0M360.7 2790h0M363.4 2790h0M366 2790h0M368.7 2790h0M371.3 2790h0M374 2790h0M376.7 2790h0M379.3 2790h0M382 2790h0M384.7 2790h0M387.3 2790h0M390 2790h0M392.6 2790h0M395.3 2790h0M398 2790h0M400.6 2790h0M403.3 2790h0M405.9 2790h0M408.6 2790h0M411.3 2790h0M413.9 2790h0M416.6 2790h0M419.3 2790h0M421.9 2790h0M424.6 2790h0M427.2 2790h0M429.9 2790h0M432.6 2790h0M435.2 2790h0M437.9 2790h0M440.6 2790h0M443.2 2790h0M445.9 2790h0M448.5 2790h0M451.2 2790h0M453.9 2790h0M456.5 2790h0M459.2 2790h0M461.9 2790h0M464.5 2790h0M467.2 2790h0M469.8 2790h0M472.5 2790h0M475.2 2790h0M477.8 2790h0M480.5 2790h0M483.1 2790h0M485.8 2790h0M488.5 2790h0M491.1 2790h0M493.8 2790h0M496.5 2790h0M499.1 2790h0M501.8 2790h0M504.4 2790h0M507.1 2790h0M509.8 2790h0M512.4 2790h0M515.1 2790h0M517.8 2790h0M520.4 2790h0M523.1 2790h0M525.7 2790h0M528.4 2790h0M531.1 2790h0M533.7 2790h0M536.4 2790h0M539 2790h0M541.7 2790h0M544.4 2790h0M547 2790h0M549.7 2790h0M552.4 2790h0M555 2790h0M557.7 2790h0M560.3 2790h0M563 2790h0M565.7 2790h0M568.3 2790h0M571 2790h0M573.7 2790h0M576.3 2790h0M579 2790h0M581.6 2790h0M584.3 2790h0M587 2790h0M589.6 2790h0M592.3 2790h0M595 2790h0M597.6 2790h0M600.3 2790h0M602.9 2790h0M605.6 2790h0M608.3 2790h0M610.9 2790h0M613.6 2790h0M616.2 2790h0M618.9 2790h0M621.6 2790h0M624.2 2790h0M626.9 2790h0M629.6 2790h0M632.2 2790h0M634.9 2790h0M637.5 2790h0M640.2 2790h0M642.9 2790h0M645.5 2790h0M648.2 2790h0M650.9 2790h0M653.5 2790h0M656.2 2790h0M658.8 2790h0M661.5 2790h0M664.2 2790h0M666.8 2790h0M669.5 2790h0M672.1 2790h0M674.8 2790h0M677.5 2790h0M680.1 2790h0M682.8 2790h0M685.5 2790h0M688.1 2790h0M690.8 2790h0M693.4 2790h0M696.1 2790h0M698.8 2790h0M701.4 2790h0M704.1 2790h0M706.8 2790h0M709.4 2790h0M712.1 2790h0M714.7 2790h0M717.4 2790h0M720.1 2790h0M722.7 2790h0M725.4 2790h0M728 2790h0M730.7 2790h0M733.4 2790h0M736 2790h0M738.7 2790h0M741.4 2790h0M744 2790h0M746.7 2790h0M749.3 2790h0M752 2790h0M754.7 2790h0M757.3 2790h0M760 2790h0M762.7 2790h0M765.3 2790h0M768 2790h0M770.6 2790h0M773.3 2790h0M776 2790h0M778.6 2790h0M781.3 2790h0M784 2790h0M786.6 2790h0M789.3 2790h0M791.9 2790h0M794.6 2790h0M797.3 2790h0M799.9 2790h0M802.6 2790h0M805.2 2790h0M807.9 2790h0M810.6 2790h0M813.2 2790h0M815.9 2790h0M818.6 2790h0M821.2 2790h0M823.9 2790h0M826.5 2790h0M829.2 2790h0M831.9 2790h0M834.5 2790h0M837.2 2790h0M839.9 2790h0M842.5 2790h0M845.2 2790h0M847.8 2790h0M850.5 2790h0M853.2 2790h0M855.8 2790h0M858.5 2790h0M861.1 2790h0M863.8 2790h0M866.5 2790h0M869.1 2790h0M871.8 2790h0M874.5 2790h0M877.1 2790h0M879.8 2790h0M882.4 2790h0M885.1 2790h0M887.8 2790h0M890.4 2790h0M893.1 2790h0M895.8 2790h0M898.4 2790h0M901.1 2790h0M903.7 2790h0M906.4 2790h0M909.1 2790h0M911.7 2790h0M914.4 2790h0M917.1 2790h0M919.7 2790h0M922.4 2790h0M925 2790h0M927.7 2790h0M930.4 2790h0M933 2790h0M935.7 2790h0M938.3 2790h0M941 2790h0M943.7 2790h0M946.3 2790h0M949 2790h0M951.7 2790h0M954.3 2790h0M957 2790h0M959.6 2790h0M962.3 2790h0M965 2790h0M967.6 2790h0M970.3 2790h0M973 2790h0M975.6 2790h0M978.3 2790h0M980.9 2790h0M983.6 2790h0M986.3 2790h0M988.9 2790h0M991.6 2790h0M994.2 2790h0M996.9 2790h0M999.6 2790h0M1002.2 2790h0M1004.9 2790h0M1007.6 2790h0M1010.2 2790h0M1012.9 2790h0M1015.5 2790h0M1018.2 2790h0M1020.9 2790h0M1023.5 2790h0M1026.2 2790h0M1028.9 2790h0M1031.5 2790h0M1034.2 2790h0M1036.8 2790h0M1039.5 2790h0M1042.2 2790h0M1044.8 2790h0M1047.5 2790h0M1050.2 2790h0M1052.8 2790h0M1055.5 2790h0M1058.1 2790h0M1060.8 2790h0M1063.5 2790h0M1066.1 2790h0M1068.8 2790h0M1071.4 2790h0M1074.1 2790h0M1076.8 2790h0M1079.4 2790h0M1082.1 2790h0M1084.8 2790h0M1087.4 2790h0M1090.1 2790h0M1092.7 2790h0M1095.4 2790h0M1098.1 2790h0M1100.7 2790h0M1103.4 2790h0M1106.1 2790h0M1108.7 2790h0M1111.4 2790h0M1114 2790h0M1116.7 2790h0M1119.4 2790h0M1122 2790h0M1124.7 2790h0M1127.3 2790h0M1130 2790h0M1132.7 2790h0M1135.3 2790h0M1138 2790h0M1140.7 2790h0M1143.3 2790h0M1146 2790h0M1148.6 2790h0M1151.3 2790h0M1154 2790h0M1156.6 2790h0M1159.3 2790h0M1162 2790h0M1164.6 2790h0M1167.3 2790h0M1169.9 2790h0M1172.6 2790h0M1175.3 2790h0M1177.9 2790h0M1180.6 2790h0M1183.3 2790h0M1185.9 2790h0M1188.6 2790h0M1191.2 2790h0M1193.9 2790h0M1196.6 2790h0M1199.2 2790h0M1201.9 2790h0M1204.5 2790h0M1207.2 2790h0M1209.9 2790h0M1212.5 2790h0M1215.2 2790h0M1217.9 2790h0M1220.5 2790h0M1223.2 2790h0M1225.8 2790h0M1228.5 2790h0M1231.2 2790h0M1233.8 2790h0M1236.5 2790h0M1239.2 2790h0M1241.8 2790h0M1244.5 2790h0M1247.1 2790h0M1249.8 2790h0M1252.5 2790h0M1255.1 2790h0M1257.8 2790h0M1260.5 2790h0M1263.1 2790h0M1265.8 2790h0M1268.4 2790h0M1271.1 2790h0M1273.8 2790h0M1276.4 2790h0M1279.1 2790h0M1281.7 2790h0M1284.4 2790h0M1287.1 2790h0M1289.7 2790h0M1292.4 2790h0M1295.1 2790h0M1297.7 2790h0M1300.4 2790h0M1303 2790h0M1305.7 2790h0M1308.4 2790h0M1311 2790h0M1313.7 2790h0M1316.4 2790h0M1319 2790h0M1321.7 2790h0M1324.3 2790h0M1327 2790h0M1329.7 2790h0M1332.3 2790h0M1335 2790h0M1337.6 2790h0M1340.3 2790h0M1343 2790h0M1345.6 2790h0M1348.3 2790h0M1351 2790h0M1353.6 2790h0M1356.3 2790h0M1358.9 2790h0M1361.6 2790h0M1364.3 2790h0M1366.9 2790h0M1369.6 2790h0M1372.3 2790h0M1374.9 2790h0M1377.6 2790h0M1380.2 2790h0M1382.9 2790h0M1385.6 2790h0M1388.2 2790h0M1390.9 2790h0M1393.5 2790h0M1396.2 2790h0M1398.9 2790h0M1401.5 2790h0M1404.2 2790h0M1406.9 2790h0M1409.5 2790h0M1412.2 2790h0M1414.8 2790h0M1417.5 2790h0M1420.2 2790h0M1422.8 2790h0M1425.5 2790h0M1428.2 2790h0M1430.8 2790h0M1433.5 2790h0M1436.1 2790h0M1438.8 2790h0M1441.5 2790h0M1444.1 2790h0M1446.8 2790h0M1449.5 2790h0M1452.1 2790h0M1454.8 2790h0M1457.4 2790h0M1460.1 2790h0M1462.8 2790h0M1465.4 2790h0M1468.1 2790h0M1470.7 2790h0M1473.4 2790h0M1476.1 2856.4h0M1478.7 2856.4h0M1481.4 2856.4h0M1484.1 2856.4h0M1486.7 2856.4h0M1489.4 2856.4h0M1492 2856.4h0M1494.7 2856.4h0M1497.4 2856.4h0M1500 2856.4h0M1502.7 2856.4h0M1505.4 2856.4h0M1508 2856.4h0M1510.7 2856.4h0M1513.3 2856.4h0M1516 2856.4h0M1518.7 2856.4h0M1521.3 2856.4h0M1524 2856.4h0M1526.7 2856.4h0M1529.3 2856.4h0M1532 2856.4h0M1534.6 2856.4h0M1537.3 2856.4h0M1540 2856.4h0M1542.6 2856.4h0M1545.3 2790h0M1547.9 2790h0M1550.6 2790h0M1553.3 2790h0M1555.9 2790h0M1558.6 2790h0M1561.3 2790h0M1563.9 2790h0M1566.6 2790h0M1569.2 2790h0M1571.9 2790h0M1574.6 2790h0M1577.2 2790h0M1579.9 2790h0M1582.6 2790h0M1585.2 2790h0M1587.9 2790h0M1590.5 2790h0M1593.2 2790h0M1595.9 2790h0M1598.5 2790h0M1601.2 2790h0M1603.8 2790h0M1606.5 2790h0M1609.2 2790h0M1611.8 2790h0M1614.5 2790h0M1617.2 2790h0M1619.8 2790h0M1622.5 2790h0M1625.1 2790h0M1627.8 2790h0M1630.5 2790h0M1633.1 2790h0M1635.8 2790h0M1638.5 2790h0M1641.1 2790h0M1643.8 2790h0M1646.4 2790h0M1649.1 2790h0M1651.8 2790h0M1654.4 2790h0M1657.1 2790h0M1659.8 2790h0M1662.4 2790h0M1665.1 2790h0M1667.7 2790h0M1670.4 2790h0M1673.1 2790h0M1675.7 2790h0M1678.4 2790h0M1681 2790h0M1683.7 2790h0M1686.4 2790h0M1689 2790h0M1691.7 2790h0M1694.4 2790h0M1697 2790h0M1699.7 2790h0M1702.3 2790h0M1705 2790h0M1707.7 2790h0M1710.3 2790h0M1713 2790h0M1715.7 2790h0M1718.3 2790h0M1721 2790h0M1723.6 2790h0M1726.3 2790h0M1729 2790h0M1731.6 2790h0M1734.3 2790h0M1736.9 2790h0M1739.6 2790h0M1742.3 2790h0M1744.9 2790h0M1747.6 2790h0M1750.3 2790h0M1752.9 2790h0M1755.6 2790h0M1758.2 2790h0M1760.9 2790h0M1763.6 2790h0M1766.2 2790h0M1768.9 2790h0M1771.6 2790h0M1774.2 2790h0M1776.9 2790h0M1779.5 2790h0M1782.2 2790h0M1784.9 2790h0M1787.5 2790h0M1790.2 2790h0M1792.8 2790h0M1795.5 2790h0M1798.2 2790h0M1800.8 2790h0M1803.5 2790h0M1806.2 2790h0M1808.8 2790h0M1811.5 2790h0M1814.1 2790h0M1816.8 2790h0M1819.5 2790h0M1822.1 2790h0M1824.8 2790h0M1827.5 2790h0M1830.1 2790h0M1832.8 2790h0M1835.4 2790h0M1838.1 2790h0M1840.8 2790h0M1843.4 2790h0M1846.1 2790h0M1848.8 2790h0M1851.4 2790h0M1854.1 2790h0M1856.7 2790h0M1859.4 2790h0M1862.1 2790h0M1864.7 2790h0M1867.4 2790h0M1870 2790h0M1872.7 2790h0M1875.4 2790h0M1878 2790h0M1880.7 2790h0M1883.4 2790h0M1886 2790h0M1888.7 2790h0M1891.3 2790h0M1894 2790h0M1896.7 2790h0M1899.3 2790h0M1902 2790h0M1904.7 2790h0M1907.3 2790h0M1910 2790h0M1912.6 2790h0M1915.3 2790h0M1918 2790h0M1920.6 2790h0M1923.3 2790h0M1926 2790h0M1928.6 2790h0M1931.3 2790h0M1933.9 2790h0M1936.6 2790h0" fill="none" stroke="#E679A8" stroke-width="24" stroke-linecap="round"/>
</g>
<line x1="167" x2="182.5" y1="2790" y2="2790" stroke="#333333" stroke-width="5.8"/>
<line x1="167" x2="182.5" y1="2457.8" y2="2457.8" stroke="#333333" stroke-width="5.8"/>
<line x1="167" x2="182.5" y1="2125.7" y2="2125.7" stroke="#333333" stroke-width="5.8"/>
<line x1="167" x2="182.5" y1="1793.5" y2="1793.5" stroke="#333333" stroke-width="5.8"/>
<line x1="262.2" x2="262.2" y1="2912.5" y2="2928" stroke="#333333" stroke-width="5.8"/>
<line x1="794.6" x2="794.6" y1="2912.5" y2="2928" stroke="#333333" stroke-width="5.8"/>
<line x1="1327" x2="1327" y1="2912.5" y2="2928" stroke="#333333" stroke-width="5.8"/>
<line x1="1859.4" x2="1859.4" y1="2912.5" y2="2928" stroke="#333333" stroke-width="5.8"/>
<text x="155" y="2806.3" text-anchor="end" class="tk">0</text>
<text x="155" y="2474.2" text-anchor="end" class="tk">5</text>
<text x="155" y="2142" text-anchor="end" class="tk">10</text>
<text x="155" y="1809.8" text-anchor="end" class="tk">15</text>
<text x="262.2" y="2974.6" text-anchor="middle" class="tk">0</text>
<text x="794.6" y="2974.6" text-anchor="middle" class="tk">200</text>
<text x="1327" y="2974.6" text-anchor="middle" class="tk">400</text>
<text x="1859.4" y="2974.6" text-anchor="middle" class="tk">600</text>
<text x="1101.5" y="3045.9" text-anchor="middle" class="ax">Position (AA)</text>
<text transform="translate(72.1 2289.5) rotate(-90)" text-anchor="middle" class="ax">Average Per-Individual Depth</text>
<text x="2109.3" y="2204.5" class="lt">sex</text>
<rect x="2111.5" y="2243.5" width="86.7" height="86" fill="#F2F2F2"/>
<line x1="2118" x2="2192.7" y1="2286.5" y2="2286.5" stroke="#00B4E6" stroke-width="5.3"/>
<circle cx="2155" cy="2286.5" r="12" fill="#00B4E6"/>
<text x="2230.5" y="2304.2" class="lg">M</text>
<rect x="2111.5" y="2338" width="86.7" height="86.2" fill="#F2F2F2"/>
<line x1="2118" x2="2192.7" y1="2381.1" y2="2381.1" stroke="#E679A8" stroke-width="5.3"/>
<circle cx="2155" cy="2381.1" r="12" fill="#E679A8"/>
<text x="2230.5" y="2398.2" class="lg">F</text>
</svg></body></html>
